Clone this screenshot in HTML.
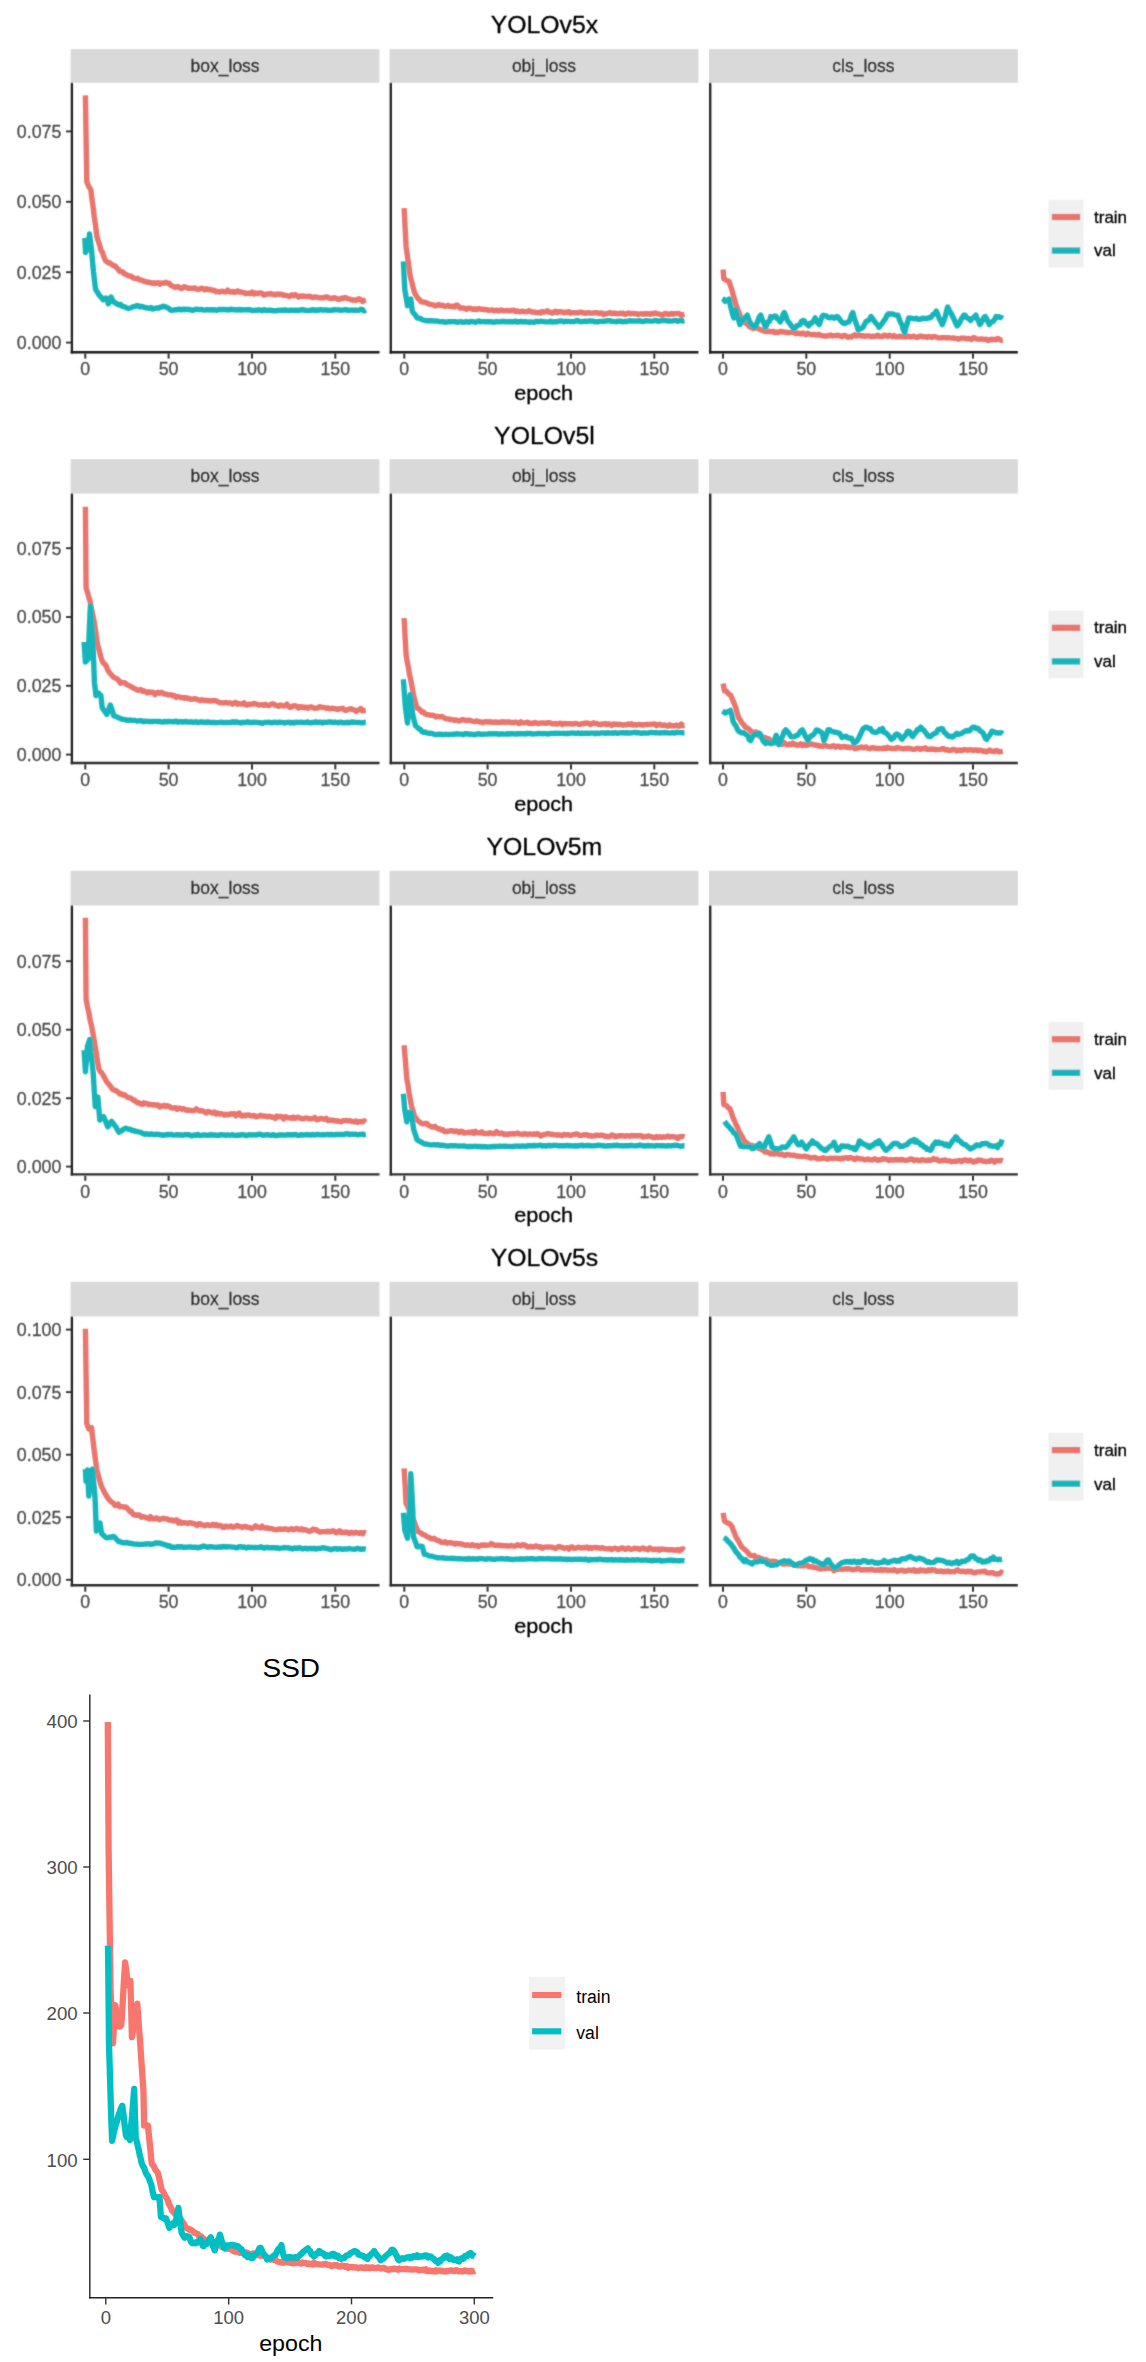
<!DOCTYPE html>
<html><head><meta charset="utf-8"><title>Loss curves</title>
<style>
html,body{margin:0;padding:0;background:#fff;}
body{width:1146px;height:2362px;overflow:hidden;font-family:"Liberation Sans",sans-serif;}
svg text{font-family:"Liberation Sans",sans-serif;}
</style></head><body>
<svg width="1146" height="2362" viewBox="0 0 1146 2362" style="display:block;font-family:'Liberation Sans',sans-serif">
<rect width="1146" height="2362" fill="#fff"/>
<defs><filter id="bl" x="0" y="0" width="1146" height="1640" filterUnits="userSpaceOnUse"><feConvolveMatrix order="3" kernelMatrix="0.0225 0.1050 0.0225 0.1050 0.4900 0.1050 0.0225 0.1050 0.0225" divisor="1" edgeMode="duplicate" preserveAlpha="false"/></filter></defs>
<g id="yolo" filter="url(#bl)" stroke-width="0.3" paint-order="stroke">
<text x="544.4" y="33.2" font-size="24.8" text-anchor="middle" stroke="#000" fill="#000">YOLOv5x</text>
<rect x="70.7" y="49.2" width="308.8" height="33.6" fill="#D9D9D9"/>
<text x="225.1" y="71.6" font-size="17.5" text-anchor="middle" stroke="#1A1A1A" fill="#1A1A1A">box_loss</text>
<rect x="389.6" y="49.2" width="308.8" height="33.6" fill="#D9D9D9"/>
<text x="544.0" y="71.6" font-size="17.5" text-anchor="middle" stroke="#1A1A1A" fill="#1A1A1A">obj_loss</text>
<rect x="709.0" y="49.2" width="308.8" height="33.6" fill="#D9D9D9"/>
<text x="863.4" y="71.6" font-size="17.5" text-anchor="middle" stroke="#1A1A1A" fill="#1A1A1A">cls_loss</text>
<polyline points="85.4,95.4 86.8,181.5 88.1,185.0 89.5,187.9 90.8,189.5 91.9,198.7 93.1,207.0 94.2,216.4 95.6,225.7 96.9,236.6 98.2,240.9 99.6,244.8 100.9,250.0 102.5,252.5 104.0,257.1 105.6,260.8 106.9,261.7 108.3,262.8 109.6,262.7 111.0,263.9 112.3,264.8 113.8,265.8 115.3,265.9 116.8,268.1 118.3,269.2 119.8,271.6 121.3,271.5 122.8,272.1 124.3,273.9 125.8,274.2 127.3,275.1 128.8,276.0 130.3,275.9 131.8,276.7 133.2,277.9 134.7,278.4 136.2,278.6 137.7,278.3 139.2,279.6 140.8,280.2 142.4,280.5 144.0,281.3 145.6,281.4 147.2,282.3 148.9,282.1 150.5,282.6 152.1,283.3 153.7,282.6 155.3,283.6 156.8,283.0 158.4,282.8 159.9,284.2 161.4,283.0 162.9,283.1 164.5,283.0 166.0,282.3 167.6,283.2 169.2,283.2 170.8,285.5 172.4,285.9 174.0,287.0 175.6,287.5 177.2,286.5 178.8,286.9 180.3,288.2 181.9,288.6 183.5,287.0 185.1,286.8 186.7,287.6 188.2,288.4 189.8,288.3 191.4,288.4 193.0,288.3 194.7,287.9 196.3,288.9 197.9,289.6 199.6,288.9 201.2,288.2 202.9,288.7 204.6,289.9 206.2,288.7 207.8,289.6 209.5,289.4 211.2,290.0 212.8,290.2 214.4,290.5 216.1,291.7 217.8,291.4 219.4,292.1 221.1,291.4 222.7,291.2 224.3,291.8 226.0,291.8 227.6,290.1 229.3,291.6 230.9,292.1 232.6,291.4 234.2,292.4 235.9,292.0 237.5,290.8 239.2,292.1 240.8,291.9 242.4,292.3 244.1,292.6 245.7,293.7 247.4,293.2 249.0,293.1 250.7,293.5 252.3,292.2 254.0,294.0 255.6,292.9 257.2,293.7 258.9,293.0 260.5,293.0 262.2,293.4 263.8,295.1 265.5,294.7 267.1,293.9 268.8,294.0 270.4,293.5 272.0,294.2 273.7,294.1 275.3,295.0 277.0,293.9 278.6,294.4 280.3,294.3 281.9,294.4 283.6,295.4 285.2,295.3 286.8,295.7 288.5,296.2 290.1,296.3 291.8,294.8 293.4,295.8 295.1,294.6 296.7,295.6 298.4,297.1 300.0,296.0 301.6,296.2 303.3,296.0 304.9,296.4 306.6,296.4 308.2,296.5 309.9,296.1 311.5,297.3 313.2,297.5 314.8,296.9 316.4,297.2 318.1,297.5 319.7,297.9 321.4,297.7 323.0,297.9 324.7,297.4 326.3,296.9 328.0,297.2 329.6,298.3 331.3,298.6 332.9,298.2 334.5,297.7 336.2,298.3 337.8,299.3 339.5,299.4 341.1,298.2 342.8,298.5 344.4,297.7 346.1,297.8 347.7,298.8 349.4,298.9 351.0,299.6 352.6,300.1 354.3,299.9 355.9,300.3 357.6,299.3 359.2,298.8 360.9,299.8 362.5,301.5 364.2,300.4 365.8,299.9" fill="none" stroke="#EA746D" stroke-width="5.4" stroke-linejoin="round" />
<polyline points="84.8,238.0 85.6,252.5 87.2,240.0 87.8,250.0 88.7,242.8 89.5,234.0 90.5,241.9 91.5,250.0 92.5,261.1 93.5,272.0 94.5,280.6 95.5,289.0 96.7,291.3 97.8,292.6 99.0,295.0 100.3,296.4 101.7,297.8 103.0,299.7 104.5,298.4 106.0,298.0 107.2,300.5 108.3,303.8 109.7,300.2 111.0,297.0 112.2,299.4 113.5,302.0 114.9,302.4 116.2,303.6 117.6,304.1 119.0,305.0 120.6,304.5 122.2,306.3 123.8,306.7 125.3,307.1 126.9,308.0 128.5,308.5 130.1,308.0 131.7,307.5 133.3,306.6 134.9,306.3 136.5,305.8 138.1,305.6 139.7,306.8 141.3,306.4 142.9,306.9 144.6,307.4 146.2,307.8 147.8,308.0 149.4,308.5 151.0,307.5 152.6,309.0 154.1,308.4 155.6,308.2 157.1,307.9 158.6,308.2 160.2,307.2 161.7,307.0 163.2,306.1 164.7,306.5 166.0,307.2 167.3,307.6 168.7,308.3 170.0,309.8 171.6,310.4 173.3,310.1 174.9,309.8 176.6,309.8 178.2,309.3 179.9,309.3 181.5,309.8 183.2,309.1 184.8,309.7 186.5,309.2 188.1,309.7 189.8,309.4 191.4,310.2 193.1,310.2 194.7,309.7 196.4,309.1 198.0,309.4 199.6,309.7 201.3,309.4 202.9,309.8 204.6,310.1 206.2,309.8 207.9,309.6 209.5,310.0 211.2,309.7 212.8,310.0 214.5,309.7 216.1,310.3 217.8,309.8 219.4,309.4 221.1,309.7 222.7,309.5 224.4,309.4 226.0,309.8 227.6,309.6 229.3,310.0 230.9,309.1 232.6,309.6 234.2,309.7 235.9,309.7 237.5,310.1 239.2,309.4 240.8,310.0 242.4,309.8 244.1,309.9 245.7,309.8 247.4,309.7 249.0,309.7 250.7,310.0 252.3,310.6 254.0,310.4 255.6,310.3 257.2,310.2 258.9,309.8 260.5,310.1 262.2,310.7 263.8,309.7 265.5,310.2 267.1,310.4 268.8,310.2 270.4,310.3 272.0,310.5 273.7,310.8 275.3,310.6 277.0,310.7 278.6,310.3 280.3,310.4 281.9,310.2 283.6,310.2 285.2,310.0 286.8,310.3 288.5,310.6 290.1,310.2 291.8,310.2 293.4,310.4 295.1,310.2 296.7,310.5 298.4,310.3 300.0,310.2 301.6,309.8 303.3,309.8 304.9,310.3 306.6,310.4 308.2,310.6 309.9,310.3 311.5,310.2 313.2,309.7 314.8,310.5 316.4,309.9 318.1,310.4 319.7,309.8 321.4,309.8 323.0,310.1 324.7,310.0 326.3,309.9 328.0,310.3 329.6,310.4 331.3,310.3 332.9,310.0 334.5,309.8 336.2,309.9 337.8,309.9 339.5,310.0 341.1,310.3 342.8,310.1 344.4,309.8 346.1,309.8 347.7,310.4 349.4,310.2 351.0,310.1 352.6,310.1 354.3,310.2 355.9,310.1 357.6,310.4 359.2,310.4 360.9,309.2 362.5,309.8 364.2,310.9 365.8,310.0" fill="none" stroke="#17B5BC" stroke-width="5.4" stroke-linejoin="round" />
<polyline points="404.1,208.2 405.1,227.4 406.1,246.5 407.5,256.6 408.8,266.0 410.2,276.1 411.8,282.1 413.3,288.3 414.9,293.6 416.4,295.9 417.9,298.5 419.4,299.3 420.9,301.6 422.5,302.0 424.0,302.1 425.6,302.5 427.2,303.2 428.7,303.9 430.3,304.3 431.9,304.7 433.5,305.0 435.1,306.0 436.8,305.7 438.4,304.5 440.0,305.3 441.6,305.2 443.2,305.4 444.8,306.5 446.4,306.1 448.0,305.3 449.7,306.4 451.3,306.5 452.9,306.2 454.5,307.0 455.8,305.4 457.0,305.0 458.5,306.1 460.0,308.0 461.6,308.0 463.2,308.0 464.8,308.3 466.4,309.4 468.0,308.3 469.6,308.2 471.2,308.6 472.9,309.4 474.5,308.8 476.1,309.8 477.7,308.7 479.3,308.7 480.9,309.3 482.5,309.1 484.1,309.7 485.8,309.4 487.4,310.0 489.1,310.3 490.8,310.1 492.4,309.9 494.1,310.8 495.7,310.5 497.4,310.2 499.1,310.9 500.7,310.0 502.4,310.4 504.1,310.8 505.7,310.6 507.4,310.4 509.1,310.8 510.7,310.5 512.4,310.5 514.0,310.3 515.7,311.5 517.4,310.9 519.0,311.7 520.7,311.5 522.4,311.2 524.0,311.6 525.7,311.6 527.4,311.5 529.0,310.8 530.7,311.5 532.4,312.1 534.0,312.0 535.7,312.3 537.3,312.7 539.0,312.3 540.7,313.0 542.3,311.5 544.0,312.1 545.7,311.9 547.3,310.8 549.0,312.3 550.6,312.3 552.3,313.1 553.9,312.2 555.6,311.2 557.2,312.7 558.9,311.7 560.5,311.6 562.2,312.1 563.8,312.7 565.5,312.2 567.1,312.5 568.8,311.5 570.4,313.2 572.1,312.6 573.7,312.6 575.4,312.9 577.0,312.7 578.7,312.7 580.3,312.2 582.0,312.5 583.7,312.9 585.3,313.3 587.0,312.8 588.6,312.8 590.3,313.0 591.9,313.1 593.6,313.0 595.2,312.7 596.9,312.6 598.5,313.4 600.2,313.2 601.8,313.0 603.5,314.7 605.1,313.8 606.8,313.6 608.4,313.2 610.1,312.6 611.7,313.6 613.4,313.2 615.0,313.2 616.7,313.7 618.3,313.8 620.0,313.2 621.7,313.5 623.3,313.3 625.0,314.4 626.6,313.8 628.3,312.9 629.9,313.7 631.6,313.5 633.2,313.5 634.9,313.8 636.5,313.7 638.2,314.6 639.8,313.9 641.5,313.8 643.2,314.2 644.8,313.5 646.5,314.1 648.1,313.7 649.8,314.3 651.4,313.4 653.1,313.9 654.7,313.0 656.4,313.4 658.0,313.8 659.7,314.1 661.3,315.0 663.0,315.1 664.7,313.5 666.3,313.5 668.0,314.6 669.6,314.4 671.3,313.4 672.9,314.2 674.6,313.6 676.2,313.6 677.9,313.4 679.5,313.9 681.2,315.3 682.8,314.7 684.5,314.3" fill="none" stroke="#EA746D" stroke-width="5.4" stroke-linejoin="round" />
<polyline points="403.4,261.3 404.8,289.5 406.1,297.3 407.5,305.7 408.4,303.5 409.2,302.0 410.8,299.0 412.2,311.0 413.8,313.4 415.3,314.9 416.9,317.8 418.5,318.2 420.1,318.2 421.8,319.5 423.4,320.0 425.0,320.4 426.6,320.9 428.1,320.6 429.7,320.8 431.3,320.8 432.8,320.8 434.4,321.1 436.0,320.9 437.5,321.2 439.1,321.6 440.7,321.6 442.2,321.6 443.8,321.8 445.5,322.4 447.1,321.9 448.8,321.7 450.5,321.8 452.2,321.6 453.8,321.6 455.5,321.7 457.2,322.3 458.8,321.9 460.5,321.8 462.2,322.0 463.8,322.4 465.5,321.8 467.2,321.6 468.9,322.4 470.5,321.5 472.2,321.6 473.9,321.9 475.5,322.4 477.2,321.6 478.9,321.0 480.5,321.8 482.2,321.6 483.9,321.6 485.6,321.8 487.2,321.8 488.9,321.8 490.6,321.6 492.2,322.0 493.9,322.2 495.6,321.8 497.2,321.6 498.9,321.9 500.6,321.9 502.2,321.4 503.9,321.5 505.6,321.9 507.3,321.7 508.9,321.6 510.6,321.7 512.3,321.7 513.9,321.7 515.6,321.1 517.3,322.0 519.0,321.8 520.6,321.4 522.3,321.9 524.0,321.8 525.6,321.7 527.3,321.9 529.0,322.3 530.6,321.9 532.3,322.1 534.0,322.3 535.6,321.5 537.3,321.4 539.0,321.8 540.7,321.2 542.3,321.4 544.0,321.6 545.7,321.9 547.3,321.9 549.0,321.8 550.6,321.1 552.3,322.1 553.9,321.8 555.6,321.8 557.2,321.7 558.9,321.1 560.5,321.0 562.2,321.1 563.8,321.9 565.5,321.3 567.1,321.4 568.8,321.4 570.4,321.6 572.1,321.6 573.7,321.6 575.4,321.1 577.0,320.5 578.7,321.3 580.3,321.5 582.0,321.7 583.7,321.4 585.3,321.2 587.0,321.5 588.6,321.0 590.3,321.0 591.9,321.0 593.6,321.3 595.2,321.9 596.9,321.6 598.5,321.7 600.2,321.4 601.8,321.4 603.5,321.2 605.1,321.2 606.8,320.6 608.4,320.8 610.1,320.8 611.7,321.4 613.4,321.4 615.0,321.6 616.7,321.7 618.3,321.2 620.0,321.2 621.7,321.5 623.3,321.8 625.0,321.3 626.6,321.5 628.3,321.2 629.9,320.7 631.6,321.1 633.2,320.9 634.9,321.1 636.5,320.9 638.2,321.1 639.8,320.5 641.5,321.5 643.2,321.5 644.8,321.0 646.5,320.7 648.1,320.9 649.8,321.1 651.4,321.1 653.1,321.1 654.7,320.4 656.4,320.5 658.0,321.2 659.7,321.0 661.3,320.5 663.0,320.5 664.7,320.4 666.3,320.5 668.0,321.1 669.6,320.8 671.3,321.1 672.9,320.9 674.6,320.4 676.2,320.5 677.9,321.3 679.5,320.6 681.2,320.4 682.8,321.0 684.5,320.7" fill="none" stroke="#17B5BC" stroke-width="5.4" stroke-linejoin="round" />
<polyline points="723.1,269.5 723.8,278.9 725.1,279.4 726.5,280.5 727.9,280.9 729.2,281.6 730.5,285.9 731.9,290.0 733.2,295.0 734.5,299.3 735.9,304.5 737.2,308.5 738.6,311.8 739.9,315.1 741.2,317.7 742.6,320.5 744.2,322.1 745.8,323.4 747.5,323.8 749.1,326.2 750.7,327.3 752.3,328.1 754.0,328.5 755.6,327.8 757.3,328.0 758.9,328.9 760.6,329.6 762.2,330.5 763.9,330.8 765.5,331.3 767.1,331.6 768.6,331.1 770.2,331.6 771.8,331.8 773.3,331.3 774.9,332.5 776.5,332.2 778.0,332.5 779.6,331.7 781.2,331.5 782.7,331.7 784.3,332.0 786.0,332.1 787.6,332.6 789.3,332.7 790.9,332.4 792.6,332.3 794.3,332.6 795.9,333.7 797.6,333.0 799.2,333.5 800.9,333.8 802.5,333.0 804.2,333.8 805.9,334.7 807.5,333.3 809.2,334.0 810.8,334.4 812.5,334.7 814.1,334.3 815.8,335.0 817.4,335.0 819.0,334.3 820.7,335.4 822.3,335.6 823.9,335.9 825.5,336.2 827.2,335.8 828.8,335.7 830.4,335.0 832.1,335.9 833.7,335.6 835.3,335.6 837.0,335.3 838.6,335.5 840.2,335.8 841.8,336.8 843.5,335.4 845.1,335.5 846.7,336.5 848.4,337.3 850.0,336.7 851.6,337.0 853.2,335.6 854.9,334.8 856.5,336.0 858.1,335.6 859.8,335.2 861.4,336.1 863.0,335.6 864.6,336.3 866.3,335.9 867.9,335.9 869.6,336.0 871.2,336.6 872.8,336.3 874.5,336.2 876.1,336.2 877.8,335.2 879.4,336.4 881.0,336.5 882.7,336.4 884.3,335.1 885.9,335.5 887.6,336.4 889.2,335.3 890.9,335.9 892.5,336.6 894.1,335.6 895.8,336.9 897.4,336.7 899.1,336.3 900.7,336.5 902.3,336.7 904.0,336.5 905.6,337.0 907.3,336.2 908.9,336.2 910.5,337.0 912.2,336.7 913.8,336.2 915.4,337.0 917.1,337.5 918.7,336.6 920.4,336.0 922.0,336.5 923.6,336.7 925.3,336.6 926.9,337.5 928.6,336.5 930.2,336.9 931.9,337.5 933.5,336.5 935.2,336.6 936.8,337.4 938.5,337.9 940.1,337.9 941.8,337.7 943.4,337.6 945.1,337.6 946.7,337.9 948.4,337.6 950.0,337.9 951.6,338.1 953.3,338.0 955.0,338.4 956.6,338.4 958.2,339.2 959.9,338.6 961.5,338.1 963.2,338.1 964.9,338.3 966.5,338.9 968.1,338.4 969.8,338.8 971.5,339.6 973.1,337.6 974.8,338.0 976.4,338.8 978.0,339.1 979.7,339.2 981.4,338.9 983.0,339.4 984.6,339.4 986.3,339.1 987.9,340.6 989.6,339.9 991.2,339.3 992.9,339.5 994.5,339.5 996.2,339.7 997.8,338.4 999.5,339.3 1001.1,340.3 1002.8,340.0" fill="none" stroke="#EA746D" stroke-width="5.4" stroke-linejoin="round" />
<polyline points="722.4,298.4 723.8,299.3 725.1,301.4 726.5,300.4 727.9,300.7 729.2,299.0 730.5,305.9 731.8,311.0 732.8,315.1 733.9,317.9 734.9,314.2 735.9,309.8 737.2,315.2 738.6,319.8 739.9,324.6 741.4,322.3 742.9,320.2 744.3,318.1 745.8,317.1 747.3,315.2 748.4,318.3 749.6,321.8 750.7,323.2 752.0,325.2 753.4,326.3 754.7,327.3 756.2,324.9 757.7,321.4 759.2,317.1 760.7,315.2 762.3,319.8 763.9,323.1 765.5,327.3 766.8,324.8 768.1,321.8 769.5,321.2 770.8,316.5 772.1,317.7 773.5,317.1 774.9,315.9 776.2,316.5 777.5,318.8 778.9,319.7 780.2,321.9 781.6,319.5 782.9,314.9 784.3,312.5 785.6,315.5 787.0,319.4 788.3,321.9 789.6,323.2 791.0,325.3 792.4,327.1 793.7,328.6 795.3,328.0 796.8,325.8 798.4,325.1 800.0,324.8 801.5,321.2 803.1,320.5 804.5,321.2 805.8,323.5 807.1,324.2 808.5,325.9 809.8,323.4 811.2,323.6 812.5,322.0 813.9,320.5 815.2,317.9 816.5,321.1 817.9,323.1 819.2,324.6 820.5,321.2 821.9,316.8 823.2,315.2 824.6,315.8 825.9,315.7 827.3,316.8 828.6,317.7 830.0,317.9 831.3,316.9 832.7,317.1 834.0,318.3 835.4,317.6 836.7,316.5 838.0,317.0 839.4,319.0 840.7,320.6 842.1,322.3 843.4,323.2 844.8,323.6 846.1,322.7 847.4,322.2 848.8,321.9 850.1,319.4 851.5,314.9 852.8,312.5 854.1,317.6 855.5,321.7 856.9,325.5 858.2,330.0 859.8,328.8 861.4,328.4 863.0,327.3 864.6,324.3 866.2,321.3 867.8,320.8 869.4,319.7 871.0,316.5 872.6,318.8 874.2,321.0 875.8,323.1 877.4,324.6 879.0,327.3 880.6,325.3 882.2,323.4 883.8,320.8 885.3,319.0 886.9,315.6 888.5,313.8 890.1,314.2 891.7,313.8 893.2,314.1 894.8,314.9 896.4,315.1 898.0,315.2 899.3,319.3 900.7,322.8 902.0,325.0 903.4,329.9 904.7,332.6 906.0,326.8 907.4,322.6 908.7,317.9 910.2,318.3 911.8,318.3 913.3,318.8 914.9,318.8 916.4,318.2 918.0,319.4 919.5,319.2 921.0,319.1 922.6,318.2 924.1,318.6 925.6,318.4 927.1,318.5 928.7,317.8 930.2,317.9 931.7,316.3 933.2,314.4 934.8,313.8 936.3,311.1 937.8,314.4 939.3,318.7 940.8,321.3 942.3,324.6 943.6,321.0 945.0,317.5 946.4,311.6 947.7,307.1 949.3,310.3 950.8,312.8 952.4,315.9 954.0,319.1 955.5,322.7 957.1,325.9 958.4,324.4 959.8,322.3 961.1,319.3 962.5,317.4 963.8,315.2 965.1,315.3 966.5,317.5 967.8,318.3 969.2,318.7 970.5,320.5 971.9,318.5 973.2,318.1 974.5,316.6 975.9,315.2 977.2,318.8 978.6,321.3 979.9,324.6 981.2,322.6 982.6,320.4 983.9,317.5 985.3,316.5 986.6,318.9 988.0,321.7 989.3,324.6 990.7,322.5 992.0,321.8 993.4,321.2 994.7,319.4 996.1,316.5 997.4,317.2 998.8,316.6 1000.1,317.4 1001.5,317.6 1002.8,318.5" fill="none" stroke="#17B5BC" stroke-width="5.4" stroke-linejoin="round" />
<line x1="71.90" y1="82.8" x2="71.90" y2="353.4" stroke="#222" stroke-width="2.3"/>
<line x1="70.7" y1="352.2" x2="379.5" y2="352.2" stroke="#1a1a1a" stroke-width="2.6"/>
<line x1="85.3" y1="353.5" x2="85.3" y2="358.6" stroke="#333" stroke-width="2"/>
<text x="85.3" y="375.3" font-size="17.8" text-anchor="middle" stroke="#4D4D4D" fill="#4D4D4D">0</text>
<line x1="168.6" y1="353.5" x2="168.6" y2="358.6" stroke="#333" stroke-width="2"/>
<text x="168.6" y="375.3" font-size="17.8" text-anchor="middle" stroke="#4D4D4D" fill="#4D4D4D">50</text>
<line x1="252.0" y1="353.5" x2="252.0" y2="358.6" stroke="#333" stroke-width="2"/>
<text x="252.0" y="375.3" font-size="17.8" text-anchor="middle" stroke="#4D4D4D" fill="#4D4D4D">100</text>
<line x1="335.3" y1="353.5" x2="335.3" y2="358.6" stroke="#333" stroke-width="2"/>
<text x="335.3" y="375.3" font-size="17.8" text-anchor="middle" stroke="#4D4D4D" fill="#4D4D4D">150</text>
<line x1="390.80" y1="82.8" x2="390.80" y2="353.4" stroke="#222" stroke-width="2.3"/>
<line x1="389.6" y1="352.2" x2="698.4" y2="352.2" stroke="#1a1a1a" stroke-width="2.6"/>
<line x1="404.3" y1="353.5" x2="404.3" y2="358.6" stroke="#333" stroke-width="2"/>
<text x="404.3" y="375.3" font-size="17.8" text-anchor="middle" stroke="#4D4D4D" fill="#4D4D4D">0</text>
<line x1="487.6" y1="353.5" x2="487.6" y2="358.6" stroke="#333" stroke-width="2"/>
<text x="487.6" y="375.3" font-size="17.8" text-anchor="middle" stroke="#4D4D4D" fill="#4D4D4D">50</text>
<line x1="571.0" y1="353.5" x2="571.0" y2="358.6" stroke="#333" stroke-width="2"/>
<text x="571.0" y="375.3" font-size="17.8" text-anchor="middle" stroke="#4D4D4D" fill="#4D4D4D">100</text>
<line x1="654.3" y1="353.5" x2="654.3" y2="358.6" stroke="#333" stroke-width="2"/>
<text x="654.3" y="375.3" font-size="17.8" text-anchor="middle" stroke="#4D4D4D" fill="#4D4D4D">150</text>
<line x1="710.20" y1="82.8" x2="710.20" y2="353.4" stroke="#222" stroke-width="2.3"/>
<line x1="709.0" y1="352.2" x2="1017.8" y2="352.2" stroke="#1a1a1a" stroke-width="2.6"/>
<line x1="723.0" y1="353.5" x2="723.0" y2="358.6" stroke="#333" stroke-width="2"/>
<text x="723.0" y="375.3" font-size="17.8" text-anchor="middle" stroke="#4D4D4D" fill="#4D4D4D">0</text>
<line x1="806.3" y1="353.5" x2="806.3" y2="358.6" stroke="#333" stroke-width="2"/>
<text x="806.3" y="375.3" font-size="17.8" text-anchor="middle" stroke="#4D4D4D" fill="#4D4D4D">50</text>
<line x1="889.7" y1="353.5" x2="889.7" y2="358.6" stroke="#333" stroke-width="2"/>
<text x="889.7" y="375.3" font-size="17.8" text-anchor="middle" stroke="#4D4D4D" fill="#4D4D4D">100</text>
<line x1="973.0" y1="353.5" x2="973.0" y2="358.6" stroke="#333" stroke-width="2"/>
<text x="973.0" y="375.3" font-size="17.8" text-anchor="middle" stroke="#4D4D4D" fill="#4D4D4D">150</text>
<line x1="66" y1="342.6" x2="71.3" y2="342.6" stroke="#333" stroke-width="1.9"/>
<text x="61.3" y="349.0" font-size="17.8" text-anchor="end" stroke="#4D4D4D" fill="#4D4D4D">0.000</text>
<line x1="66" y1="272.2" x2="71.3" y2="272.2" stroke="#333" stroke-width="1.9"/>
<text x="61.3" y="278.6" font-size="17.8" text-anchor="end" stroke="#4D4D4D" fill="#4D4D4D">0.025</text>
<line x1="66" y1="201.8" x2="71.3" y2="201.8" stroke="#333" stroke-width="1.9"/>
<text x="61.3" y="208.2" font-size="17.8" text-anchor="end" stroke="#4D4D4D" fill="#4D4D4D">0.050</text>
<line x1="66" y1="131.4" x2="71.3" y2="131.4" stroke="#333" stroke-width="1.9"/>
<text x="61.3" y="137.8" font-size="17.8" text-anchor="end" stroke="#4D4D4D" fill="#4D4D4D">0.075</text>
<text transform="translate(543.7 399.7) scale(1.03 1)" font-size="21" text-anchor="middle" stroke="#000" fill="#000">epoch</text>
<rect x="1048.5" y="199.8" width="35" height="67.7" fill="#F0F0F0"/>
<line x1="1051.8" x2="1080.2" y1="217.0" y2="217.0" stroke="#EA746D" stroke-width="6.3"/>
<line x1="1051.8" x2="1080.2" y1="250.6" y2="250.6" stroke="#17B5BC" stroke-width="6.3"/>
<text x="1094.0" y="222.6" font-size="17.0" stroke="#000" fill="#000">train</text>
<text x="1094.0" y="256.4" font-size="17.0" stroke="#000" fill="#000">val</text>
<text x="544.4" y="444.0" font-size="24.8" text-anchor="middle" stroke="#000" fill="#000">YOLOv5l</text>
<rect x="70.7" y="459.2" width="308.8" height="34.4" fill="#D9D9D9"/>
<text x="225.1" y="482.0" font-size="17.5" text-anchor="middle" stroke="#1A1A1A" fill="#1A1A1A">box_loss</text>
<rect x="389.6" y="459.2" width="308.8" height="34.4" fill="#D9D9D9"/>
<text x="544.0" y="482.0" font-size="17.5" text-anchor="middle" stroke="#1A1A1A" fill="#1A1A1A">obj_loss</text>
<rect x="709.0" y="459.2" width="308.8" height="34.4" fill="#D9D9D9"/>
<text x="863.4" y="482.0" font-size="17.5" text-anchor="middle" stroke="#1A1A1A" fill="#1A1A1A">cls_loss</text>
<polyline points="85.4,506.8 86.1,588.1 87.4,591.8 88.8,597.1 90.1,601.5 91.5,608.9 92.8,614.8 94.2,621.7 95.8,632.2 97.5,644.5 98.9,649.2 100.2,654.6 101.6,659.3 103.2,662.8 104.8,664.1 106.4,666.4 108.0,670.4 109.6,672.8 111.2,674.5 112.7,676.5 114.3,677.6 115.9,678.2 117.4,679.3 119.0,680.8 120.5,683.2 122.0,682.4 123.5,682.6 125.0,682.9 126.5,684.4 128.0,685.3 129.5,685.8 131.0,686.7 132.5,687.5 134.1,688.3 135.8,689.2 137.4,690.1 139.1,690.2 140.7,689.4 142.4,691.3 144.0,690.8 145.7,692.0 147.3,692.9 148.8,691.8 150.4,692.5 151.9,692.1 153.4,692.6 154.9,694.6 156.5,692.8 158.0,692.3 159.7,693.3 161.3,692.3 163.0,693.1 164.6,694.1 166.3,694.1 167.9,694.7 169.6,694.9 171.2,694.6 172.9,695.8 174.5,695.4 176.2,697.4 177.8,696.5 179.5,697.0 181.1,697.6 182.7,697.5 184.2,698.2 185.8,697.5 187.4,698.6 189.0,698.2 190.6,699.2 192.2,699.1 193.7,699.0 195.3,698.5 196.9,699.5 198.5,699.7 200.1,700.7 201.7,699.7 203.2,700.3 204.8,700.5 206.4,700.3 208.0,700.7 209.7,700.8 211.3,701.0 212.9,700.6 214.6,700.5 216.2,700.9 217.8,701.8 219.5,702.7 221.1,702.7 222.7,702.9 224.4,702.9 226.0,702.4 227.6,703.1 229.3,702.8 230.9,703.2 232.6,704.0 234.2,702.9 235.9,702.5 237.5,704.2 239.2,703.5 240.8,703.9 242.4,704.0 244.1,702.8 245.7,704.9 247.4,705.0 249.0,704.1 250.7,704.3 252.3,704.1 254.0,703.4 255.6,703.9 257.2,704.3 258.9,705.0 260.5,704.9 262.2,704.6 263.8,705.4 265.5,704.3 267.1,705.1 268.8,705.6 270.4,704.8 272.0,703.8 273.7,704.2 275.3,705.1 277.0,705.6 278.6,706.4 280.3,705.0 281.9,705.4 283.6,706.0 285.2,705.7 286.8,704.2 288.5,706.1 290.1,707.5 291.8,707.0 293.4,705.7 295.1,705.9 296.7,706.4 298.4,708.0 300.0,706.5 301.6,707.3 303.3,706.9 304.9,707.8 306.6,707.1 308.2,708.2 309.9,706.9 311.5,706.9 313.2,707.7 314.8,708.4 316.4,708.1 318.1,707.9 319.7,706.6 321.4,707.1 323.0,707.4 324.7,707.6 326.3,708.4 328.0,708.0 329.6,708.8 331.3,708.5 332.9,708.3 334.5,708.6 336.2,709.0 337.8,709.4 339.5,708.7 341.1,708.8 342.8,708.2 344.4,710.0 346.1,710.4 347.7,709.5 349.4,709.2 351.0,708.7 352.6,709.6 354.3,709.9 355.9,711.3 357.6,710.4 359.2,709.7 360.9,708.5 362.5,710.9 364.2,710.6 365.8,710.5" fill="none" stroke="#EA746D" stroke-width="5.4" stroke-linejoin="round" />
<polyline points="84.1,641.8 85.4,662.0 86.8,660.3 88.1,659.3 89.2,632.4 90.4,605.6 91.7,623.6 93.0,641.8 94.4,682.2 96.0,695.6 97.2,694.2 98.5,693.0 99.7,694.5 100.9,695.6 102.2,707.7 103.8,710.0 105.3,712.1 106.9,714.4 108.0,711.8 109.2,708.1 110.3,705.0 111.4,708.2 112.6,711.7 113.7,715.8 115.2,716.1 116.7,716.9 118.2,717.6 119.8,718.2 121.3,718.9 122.8,719.4 124.3,719.6 125.8,719.8 127.4,720.3 129.0,720.3 130.5,720.0 132.1,720.4 133.7,720.4 135.3,720.4 136.8,721.1 138.4,720.9 140.0,720.6 141.6,720.8 143.1,721.6 144.7,721.1 146.3,721.3 147.9,721.4 149.4,721.5 151.0,721.6 152.6,721.5 154.3,721.4 155.9,721.4 157.6,721.5 159.3,721.5 160.9,721.8 162.6,722.1 164.3,721.5 165.9,721.8 167.6,721.5 169.3,721.5 170.9,721.6 172.6,721.8 174.3,721.7 176.0,721.1 177.6,722.1 179.3,721.8 181.0,721.7 182.6,722.0 184.3,721.8 186.0,721.5 187.6,722.0 189.3,722.1 191.0,721.8 192.6,722.2 194.3,722.2 196.0,721.8 197.6,722.5 199.3,722.3 201.0,721.8 202.6,722.2 204.3,722.2 206.0,722.5 207.7,721.9 209.3,722.4 211.0,722.5 212.7,722.5 214.3,722.5 216.0,722.7 217.7,722.6 219.3,722.4 221.0,722.1 222.7,722.6 224.3,722.7 226.0,722.4 227.7,722.6 229.3,722.5 231.0,722.6 232.7,721.8 234.3,722.4 236.0,721.7 237.7,722.4 239.3,722.7 241.0,723.0 242.6,722.4 244.3,722.5 246.0,722.4 247.6,721.8 249.3,722.5 251.0,722.4 252.6,722.5 254.3,722.2 256.0,722.4 257.6,722.4 259.3,722.8 260.9,722.6 262.6,723.5 264.3,722.5 265.9,722.4 267.6,722.4 269.3,722.2 270.9,722.8 272.6,722.7 274.3,722.1 275.9,722.4 277.6,722.8 279.3,722.1 280.9,722.4 282.6,722.4 284.2,723.1 285.9,722.7 287.6,722.4 289.2,722.3 290.9,723.0 292.6,722.4 294.2,723.1 295.9,722.2 297.6,722.4 299.2,722.4 300.9,722.3 302.6,722.4 304.2,722.6 305.9,722.3 307.6,722.0 309.2,722.8 310.9,722.9 312.5,722.4 314.2,722.5 315.9,721.8 317.5,722.6 319.2,722.1 320.9,722.3 322.5,723.0 324.2,722.2 325.9,722.4 327.5,722.2 329.2,721.9 330.9,722.0 332.5,722.5 334.2,722.1 335.8,722.3 337.5,722.7 339.2,722.5 340.8,722.1 342.5,722.8 344.2,722.6 345.8,722.9 347.5,722.3 349.2,722.9 350.8,722.2 352.5,722.0 354.1,722.3 355.8,722.4 357.5,722.6 359.1,722.4 360.8,722.7 362.5,722.9 364.1,722.4 365.8,722.5" fill="none" stroke="#17B5BC" stroke-width="5.4" stroke-linejoin="round" />
<polyline points="404.1,618.2 405.1,637.0 406.1,654.5 407.2,661.9 408.4,667.3 409.5,674.6 410.8,680.1 412.2,687.8 413.5,694.8 414.6,699.6 415.8,703.7 416.9,708.2 418.5,708.5 420.1,709.9 421.7,712.1 423.3,711.9 424.9,713.6 426.4,714.4 427.9,714.7 429.4,715.0 430.9,715.4 432.5,715.1 434.0,715.5 435.5,716.9 437.0,716.3 438.6,716.6 440.1,716.7 441.7,716.4 443.2,717.1 444.8,718.2 446.3,718.9 447.9,719.0 449.4,719.2 451.0,719.5 452.5,719.6 454.1,720.3 455.6,720.0 457.2,720.3 458.8,721.0 460.4,720.6 462.0,719.7 463.6,719.8 465.3,720.4 466.9,720.5 468.5,720.2 470.1,720.4 471.7,721.0 473.3,721.4 474.9,721.7 476.5,720.9 478.2,721.5 479.8,722.1 481.4,721.9 483.0,722.7 484.6,721.7 486.2,721.8 487.8,722.0 489.4,721.8 491.1,722.0 492.7,722.3 494.3,722.2 495.9,722.0 497.5,722.4 499.2,722.1 500.8,722.4 502.5,721.6 504.1,722.4 505.8,721.9 507.5,722.3 509.1,721.9 510.8,722.5 512.4,722.4 514.1,722.5 515.8,722.2 517.4,722.7 519.1,723.6 520.8,721.9 522.4,722.9 524.1,722.9 525.7,722.6 527.4,722.1 529.1,723.6 530.7,723.1 532.4,723.5 534.0,722.9 535.7,722.5 537.4,723.5 539.0,723.5 540.7,723.0 542.3,722.9 544.0,723.1 545.7,723.4 547.3,722.8 549.0,722.7 550.6,723.1 552.3,723.8 553.9,723.8 555.6,723.5 557.2,724.1 558.9,723.4 560.5,723.1 562.2,724.6 563.8,723.4 565.5,723.8 567.1,723.8 568.8,723.6 570.4,723.7 572.1,724.0 573.7,724.0 575.4,723.4 577.0,723.6 578.7,724.4 580.3,724.2 582.0,723.6 583.7,723.7 585.3,723.2 587.0,723.0 588.6,723.4 590.3,724.6 591.9,723.7 593.6,722.8 595.2,723.6 596.9,723.5 598.5,724.3 600.2,724.7 601.8,724.0 603.5,724.1 605.1,723.6 606.8,724.7 608.4,723.8 610.1,724.1 611.7,725.4 613.4,724.0 615.0,724.3 616.7,724.2 618.3,724.5 620.0,724.3 621.7,724.6 623.3,725.2 625.0,724.8 626.6,724.8 628.3,723.9 629.9,724.6 631.6,723.8 633.2,725.0 634.9,724.6 636.5,725.1 638.2,724.4 639.8,724.7 641.5,724.7 643.2,725.0 644.8,724.7 646.5,724.4 648.1,724.5 649.8,724.4 651.4,724.2 653.1,724.1 654.7,723.9 656.4,725.7 658.0,724.7 659.7,724.3 661.3,725.4 663.0,725.2 664.7,725.0 666.3,725.6 668.0,726.2 669.6,724.8 671.3,725.8 672.9,725.6 674.6,725.9 676.2,725.0 677.9,726.1 679.5,726.0 681.2,724.0 682.8,725.7 684.5,725.3" fill="none" stroke="#EA746D" stroke-width="5.4" stroke-linejoin="round" />
<polyline points="403.4,679.3 404.4,693.8 405.5,708.2 406.5,715.6 407.5,723.0 408.9,708.9 410.2,694.8 411.5,704.8 412.8,715.0 414.1,720.4 415.5,725.7 417.1,727.0 418.7,728.6 420.4,729.5 422.0,731.6 423.6,732.4 425.1,732.0 426.6,732.8 428.1,733.3 429.6,733.3 431.0,733.4 432.5,733.7 434.0,734.2 435.5,734.6 437.0,734.5 438.6,734.2 440.3,734.5 441.9,734.3 443.6,734.7 445.2,734.3 446.9,734.4 448.5,734.7 450.2,734.4 451.8,734.4 453.5,734.2 455.1,734.2 456.8,733.8 458.4,734.0 460.0,734.1 461.7,734.1 463.3,734.7 465.0,733.8 466.6,733.6 468.3,734.1 469.9,734.3 471.6,734.2 473.2,734.5 474.9,734.7 476.5,734.1 478.2,733.8 479.8,734.0 481.4,734.4 483.1,734.2 484.7,734.1 486.4,734.1 488.0,734.1 489.7,733.6 491.3,734.0 493.0,733.8 494.6,733.9 496.3,733.8 497.9,734.0 499.6,734.2 501.2,733.9 502.8,734.0 504.5,734.1 506.1,734.0 507.8,733.8 509.4,734.0 511.1,733.8 512.7,733.8 514.4,733.9 516.0,734.2 517.7,733.7 519.3,733.7 521.0,733.8 522.6,733.6 524.2,733.7 525.9,734.0 527.5,733.3 529.2,733.6 530.8,733.5 532.5,734.1 534.1,733.9 535.8,733.8 537.4,733.6 539.1,733.4 540.7,733.6 542.4,733.7 544.0,733.6 545.7,733.6 547.3,734.0 549.0,733.8 550.6,733.4 552.3,733.4 553.9,733.5 555.6,733.2 557.2,733.4 558.9,733.3 560.5,733.4 562.2,733.4 563.8,733.3 565.5,733.7 567.1,733.3 568.8,733.5 570.4,733.1 572.1,733.0 573.7,733.1 575.4,733.2 577.0,733.4 578.7,732.9 580.3,733.6 582.0,733.0 583.7,733.5 585.3,733.3 587.0,733.1 588.6,733.4 590.3,733.1 591.9,733.1 593.6,733.1 595.2,733.8 596.9,733.0 598.5,733.5 600.2,733.1 601.8,732.9 603.5,732.9 605.1,733.3 606.8,733.0 608.4,732.8 610.1,733.1 611.7,733.0 613.4,733.2 615.0,732.7 616.7,733.2 618.3,733.2 620.0,732.9 621.7,732.8 623.3,732.8 625.0,733.0 626.6,732.8 628.3,733.0 629.9,733.0 631.6,732.9 633.2,732.6 634.9,732.3 636.5,732.8 638.2,732.5 639.8,733.0 641.5,733.3 643.2,732.9 644.8,733.0 646.5,733.1 648.1,733.1 649.8,732.6 651.4,732.5 653.1,732.6 654.7,732.8 656.4,732.6 658.0,732.8 659.7,733.1 661.3,732.7 663.0,732.7 664.7,732.5 666.3,732.7 668.0,732.9 669.6,733.1 671.3,732.8 672.9,732.6 674.6,733.1 676.2,732.3 677.9,732.5 679.5,732.5 681.2,732.6 682.8,732.8 684.5,732.7" fill="none" stroke="#17B5BC" stroke-width="5.4" stroke-linejoin="round" />
<polyline points="723.1,683.5 724.5,690.9 726.0,690.9 727.5,692.6 729.0,694.3 730.5,694.9 731.8,698.0 733.2,701.2 734.5,704.3 735.9,708.0 737.2,713.0 738.6,717.8 739.9,719.4 741.3,722.0 742.6,723.6 744.0,725.3 745.3,727.2 746.9,727.8 748.5,728.8 750.2,730.3 751.8,732.2 753.4,732.5 754.9,732.2 756.4,732.0 757.9,735.3 759.5,736.3 761.0,736.5 762.5,736.9 764.0,737.1 765.5,737.9 767.0,738.4 768.6,738.7 770.1,740.4 771.6,740.9 773.1,740.6 774.7,742.0 776.2,743.3 777.7,743.0 779.2,743.0 780.7,744.6 782.2,744.5 783.6,742.0 785.1,743.7 786.6,744.5 788.1,744.8 789.6,744.0 791.2,744.7 792.8,743.1 794.3,744.6 795.9,744.4 797.5,745.3 799.1,744.9 800.7,743.8 802.3,745.6 803.8,744.2 805.4,745.3 807.0,745.2 808.6,744.7 810.2,743.7 811.8,744.3 813.3,744.5 814.9,745.0 816.5,745.3 818.1,745.2 819.7,746.4 821.2,746.0 822.8,746.4 824.4,745.2 826.0,745.5 827.6,746.4 829.2,746.6 830.7,746.6 832.3,746.0 833.9,745.6 835.5,747.2 837.1,746.2 838.7,746.2 840.2,747.4 841.8,746.8 843.4,746.7 845.0,746.5 846.7,747.3 848.3,747.0 849.9,747.8 851.6,747.2 853.2,746.8 854.8,748.7 856.5,748.4 858.1,747.8 859.7,747.6 861.4,746.9 863.0,747.8 864.6,747.4 866.3,747.0 867.9,748.3 869.6,748.7 871.2,748.0 872.8,747.7 874.5,748.2 876.1,748.1 877.8,748.5 879.4,748.5 881.0,748.5 882.7,748.7 884.3,747.8 885.9,748.6 887.6,747.2 889.2,748.2 890.9,748.2 892.5,748.6 894.1,748.4 895.8,748.7 897.4,747.5 899.1,748.1 900.7,748.1 902.3,748.8 904.0,748.8 905.6,748.5 907.3,748.4 908.9,748.3 910.5,748.7 912.2,749.1 913.8,749.4 915.4,749.0 917.1,748.4 918.7,748.4 920.4,749.4 922.0,748.5 923.6,748.8 925.3,747.8 926.9,749.4 928.6,749.3 930.2,749.3 931.9,749.0 933.5,749.2 935.2,749.7 936.8,749.5 938.5,749.6 940.1,749.6 941.8,748.9 943.4,748.5 945.1,750.0 946.7,749.5 948.4,750.4 950.0,750.6 951.6,749.8 953.3,749.5 955.0,749.6 956.6,750.9 958.2,750.3 959.9,750.0 961.5,750.7 963.2,749.8 964.9,749.8 966.5,749.9 968.1,750.3 969.8,749.7 971.5,749.9 973.1,750.5 974.8,750.0 976.4,749.9 978.0,750.8 979.7,750.1 981.4,750.5 983.0,751.2 984.6,751.0 986.3,752.0 987.9,751.1 989.6,750.1 991.2,751.1 992.9,751.2 994.5,751.6 996.2,750.4 997.8,751.0 999.5,751.9 1001.1,751.6 1002.8,751.4" fill="none" stroke="#EA746D" stroke-width="5.4" stroke-linejoin="round" />
<polyline points="722.4,711.0 723.8,711.9 725.1,713.0 726.5,712.4 727.8,711.7 729.2,711.5 730.5,710.4 731.9,715.3 733.2,721.8 734.6,724.1 735.9,725.7 737.2,728.8 738.6,731.2 739.9,731.7 741.3,732.8 742.6,732.7 744.0,732.7 745.3,733.9 746.6,734.9 748.0,736.0 749.4,739.8 750.7,740.6 752.0,737.2 753.4,736.0 754.7,733.9 756.1,734.4 757.4,733.9 758.8,732.9 760.1,733.9 761.4,736.7 762.8,740.4 764.1,742.0 765.7,743.5 767.3,741.8 769.0,742.8 770.6,743.6 772.2,743.3 773.5,742.7 774.9,738.4 776.2,735.2 777.5,740.2 778.9,744.6 780.2,742.9 781.6,738.0 782.9,735.4 784.3,731.4 785.6,729.9 787.0,731.1 788.3,732.6 789.6,734.4 791.0,736.6 792.3,736.9 793.7,736.7 795.0,736.3 796.4,735.4 797.7,735.2 799.3,733.0 800.8,730.6 802.4,729.9 803.8,732.6 805.1,735.7 806.4,737.7 807.8,740.6 809.2,738.0 810.7,736.2 812.1,735.5 813.6,734.4 815.0,732.6 816.5,729.9 818.0,730.3 819.5,731.3 821.0,732.1 822.5,733.9 823.9,740.6 825.3,738.0 826.6,734.1 828.0,729.9 829.5,729.6 830.9,731.0 832.4,731.5 833.8,731.9 835.2,732.4 836.7,732.5 838.0,732.8 839.4,733.3 840.7,735.3 842.1,737.4 843.4,736.6 844.8,736.4 846.1,736.2 847.4,737.8 848.8,737.9 850.1,738.3 851.5,738.3 852.9,741.1 854.2,743.3 855.5,742.2 856.9,740.9 858.2,739.1 859.5,736.6 860.7,733.7 861.8,731.6 863.0,729.0 864.3,728.0 865.7,727.2 867.0,727.2 868.6,728.4 870.2,728.4 871.8,730.9 873.4,732.0 875.0,732.5 876.5,732.3 878.0,731.4 879.5,729.7 881.0,730.9 882.5,728.5 884.0,732.3 885.4,732.4 886.9,733.9 888.3,735.3 889.8,737.2 891.2,739.3 892.6,738.5 893.9,737.7 895.2,735.0 896.6,733.9 898.0,734.6 899.3,735.5 900.6,737.7 902.0,739.3 903.3,737.3 904.7,736.1 906.0,734.6 907.4,731.6 908.7,731.2 910.0,732.1 911.4,735.0 912.7,736.6 914.3,734.1 915.9,732.2 917.6,729.5 919.2,729.6 920.8,727.2 922.4,729.2 923.9,730.2 925.5,732.5 927.1,734.7 928.6,736.4 930.2,736.6 931.7,735.4 933.3,734.2 934.8,733.4 936.4,732.8 937.9,729.5 939.5,729.5 941.0,728.5 942.6,728.9 944.2,732.4 945.8,733.3 947.4,735.5 949.0,736.6 950.5,736.1 952.1,737.0 953.6,736.3 955.2,734.8 956.7,733.4 958.3,734.5 959.8,733.9 961.4,733.6 963.1,732.3 964.7,731.5 966.4,730.4 968.0,731.0 969.7,730.7 971.3,728.5 973.0,727.3 974.6,727.2 976.2,728.6 977.8,728.2 979.4,730.1 981.0,731.5 982.6,732.5 984.0,734.8 985.3,738.2 986.7,739.3 988.0,736.9 989.4,735.7 990.7,733.5 992.0,731.2 993.5,731.6 995.1,732.5 996.6,732.7 998.2,733.1 999.7,732.9 1001.3,732.8 1002.8,733.9" fill="none" stroke="#17B5BC" stroke-width="5.4" stroke-linejoin="round" />
<line x1="71.90" y1="493.6" x2="71.90" y2="764.2" stroke="#222" stroke-width="2.3"/>
<line x1="70.7" y1="763.0" x2="379.5" y2="763.0" stroke="#2e2e2e" stroke-width="2.4"/>
<line x1="85.3" y1="764.3" x2="85.3" y2="769.4" stroke="#333" stroke-width="2"/>
<text x="85.3" y="786.1" font-size="17.8" text-anchor="middle" stroke="#4D4D4D" fill="#4D4D4D">0</text>
<line x1="168.6" y1="764.3" x2="168.6" y2="769.4" stroke="#333" stroke-width="2"/>
<text x="168.6" y="786.1" font-size="17.8" text-anchor="middle" stroke="#4D4D4D" fill="#4D4D4D">50</text>
<line x1="252.0" y1="764.3" x2="252.0" y2="769.4" stroke="#333" stroke-width="2"/>
<text x="252.0" y="786.1" font-size="17.8" text-anchor="middle" stroke="#4D4D4D" fill="#4D4D4D">100</text>
<line x1="335.3" y1="764.3" x2="335.3" y2="769.4" stroke="#333" stroke-width="2"/>
<text x="335.3" y="786.1" font-size="17.8" text-anchor="middle" stroke="#4D4D4D" fill="#4D4D4D">150</text>
<line x1="390.80" y1="493.6" x2="390.80" y2="764.2" stroke="#222" stroke-width="2.3"/>
<line x1="389.6" y1="763.0" x2="698.4" y2="763.0" stroke="#2e2e2e" stroke-width="2.4"/>
<line x1="404.3" y1="764.3" x2="404.3" y2="769.4" stroke="#333" stroke-width="2"/>
<text x="404.3" y="786.1" font-size="17.8" text-anchor="middle" stroke="#4D4D4D" fill="#4D4D4D">0</text>
<line x1="487.6" y1="764.3" x2="487.6" y2="769.4" stroke="#333" stroke-width="2"/>
<text x="487.6" y="786.1" font-size="17.8" text-anchor="middle" stroke="#4D4D4D" fill="#4D4D4D">50</text>
<line x1="571.0" y1="764.3" x2="571.0" y2="769.4" stroke="#333" stroke-width="2"/>
<text x="571.0" y="786.1" font-size="17.8" text-anchor="middle" stroke="#4D4D4D" fill="#4D4D4D">100</text>
<line x1="654.3" y1="764.3" x2="654.3" y2="769.4" stroke="#333" stroke-width="2"/>
<text x="654.3" y="786.1" font-size="17.8" text-anchor="middle" stroke="#4D4D4D" fill="#4D4D4D">150</text>
<line x1="710.20" y1="493.6" x2="710.20" y2="764.2" stroke="#222" stroke-width="2.3"/>
<line x1="709.0" y1="763.0" x2="1017.8" y2="763.0" stroke="#2e2e2e" stroke-width="2.4"/>
<line x1="723.0" y1="764.3" x2="723.0" y2="769.4" stroke="#333" stroke-width="2"/>
<text x="723.0" y="786.1" font-size="17.8" text-anchor="middle" stroke="#4D4D4D" fill="#4D4D4D">0</text>
<line x1="806.3" y1="764.3" x2="806.3" y2="769.4" stroke="#333" stroke-width="2"/>
<text x="806.3" y="786.1" font-size="17.8" text-anchor="middle" stroke="#4D4D4D" fill="#4D4D4D">50</text>
<line x1="889.7" y1="764.3" x2="889.7" y2="769.4" stroke="#333" stroke-width="2"/>
<text x="889.7" y="786.1" font-size="17.8" text-anchor="middle" stroke="#4D4D4D" fill="#4D4D4D">100</text>
<line x1="973.0" y1="764.3" x2="973.0" y2="769.4" stroke="#333" stroke-width="2"/>
<text x="973.0" y="786.1" font-size="17.8" text-anchor="middle" stroke="#4D4D4D" fill="#4D4D4D">150</text>
<line x1="66" y1="754.6" x2="71.3" y2="754.6" stroke="#333" stroke-width="1.9"/>
<text x="61.3" y="761.0" font-size="17.8" text-anchor="end" stroke="#4D4D4D" fill="#4D4D4D">0.000</text>
<line x1="66" y1="685.8" x2="71.3" y2="685.8" stroke="#333" stroke-width="1.9"/>
<text x="61.3" y="692.2" font-size="17.8" text-anchor="end" stroke="#4D4D4D" fill="#4D4D4D">0.025</text>
<line x1="66" y1="617.0" x2="71.3" y2="617.0" stroke="#333" stroke-width="1.9"/>
<text x="61.3" y="623.4" font-size="17.8" text-anchor="end" stroke="#4D4D4D" fill="#4D4D4D">0.050</text>
<line x1="66" y1="548.2" x2="71.3" y2="548.2" stroke="#333" stroke-width="1.9"/>
<text x="61.3" y="554.6" font-size="17.8" text-anchor="end" stroke="#4D4D4D" fill="#4D4D4D">0.075</text>
<text transform="translate(543.7 810.5) scale(1.03 1)" font-size="21" text-anchor="middle" stroke="#000" fill="#000">epoch</text>
<rect x="1048.5" y="610.6" width="35" height="67.7" fill="#F0F0F0"/>
<line x1="1051.8" x2="1080.2" y1="627.8" y2="627.8" stroke="#EA746D" stroke-width="6.3"/>
<line x1="1051.8" x2="1080.2" y1="661.4" y2="661.4" stroke="#17B5BC" stroke-width="6.3"/>
<text x="1094.0" y="633.4" font-size="17.0" stroke="#000" fill="#000">train</text>
<text x="1094.0" y="667.2" font-size="17.0" stroke="#000" fill="#000">val</text>
<text x="544.4" y="855.4" font-size="24.8" text-anchor="middle" stroke="#000" fill="#000">YOLOv5m</text>
<rect x="70.7" y="870.8" width="308.8" height="34.7" fill="#D9D9D9"/>
<text x="225.1" y="893.8" font-size="17.5" text-anchor="middle" stroke="#1A1A1A" fill="#1A1A1A">box_loss</text>
<rect x="389.6" y="870.8" width="308.8" height="34.7" fill="#D9D9D9"/>
<text x="544.0" y="893.8" font-size="17.5" text-anchor="middle" stroke="#1A1A1A" fill="#1A1A1A">obj_loss</text>
<rect x="709.0" y="870.8" width="308.8" height="34.7" fill="#D9D9D9"/>
<text x="863.4" y="893.8" font-size="17.5" text-anchor="middle" stroke="#1A1A1A" fill="#1A1A1A">cls_loss</text>
<polyline points="85.4,917.8 86.1,999.1 87.4,1006.3 88.8,1012.5 90.1,1020.2 91.5,1025.7 92.8,1032.7 93.9,1038.8 95.1,1046.2 96.2,1052.8 97.6,1062.0 98.9,1069.0 100.2,1071.6 101.6,1072.7 102.9,1074.8 104.3,1077.4 105.6,1079.7 106.9,1082.2 108.3,1083.6 109.6,1085.2 111.0,1087.1 112.3,1089.1 113.8,1090.0 115.3,1090.2 116.8,1091.3 118.3,1092.3 119.8,1094.0 121.3,1093.8 122.8,1095.1 124.3,1094.6 125.8,1095.9 127.3,1097.1 128.8,1097.6 130.3,1097.9 131.8,1098.8 133.2,1100.2 134.7,1100.3 136.2,1101.8 137.7,1103.0 139.2,1102.6 140.8,1104.1 142.4,1104.4 143.9,1102.8 145.5,1103.7 147.1,1103.4 148.7,1104.6 150.2,1104.4 151.8,1104.7 153.4,1105.1 155.0,1104.7 156.5,1105.2 158.1,1105.0 159.7,1106.9 161.3,1105.9 162.8,1106.2 164.4,1105.3 166.0,1106.6 167.6,1105.7 169.2,1106.3 170.8,1107.7 172.4,1108.1 173.9,1108.1 175.5,1107.7 177.1,1109.4 178.7,1108.1 180.3,1108.1 181.9,1109.2 183.5,1108.6 185.1,1109.5 186.6,1110.3 188.2,1110.0 189.8,1110.4 191.4,1110.5 193.0,1110.6 194.7,1110.4 196.3,1108.9 197.9,1110.0 199.6,1111.1 201.2,1110.4 202.9,1111.1 204.6,1111.9 206.2,1112.9 207.8,1111.5 209.5,1111.9 211.2,1112.6 212.8,1113.1 214.4,1112.1 216.1,1114.1 217.8,1112.9 219.4,1114.1 221.1,1113.6 222.7,1114.0 224.3,1115.1 226.0,1114.1 227.6,1114.9 229.3,1114.5 230.9,1113.8 232.6,1114.0 234.2,1113.6 235.9,1115.8 237.5,1114.0 239.2,1113.1 240.8,1115.6 242.4,1116.0 244.1,1115.1 245.7,1115.7 247.4,1114.9 249.0,1115.0 250.7,1115.7 252.3,1115.9 254.0,1115.4 255.6,1116.8 257.2,1116.5 258.9,1116.2 260.5,1115.3 262.2,1116.1 263.8,1116.0 265.5,1116.2 267.1,1116.9 268.8,1116.2 270.4,1116.7 272.0,1117.2 273.7,1117.1 275.3,1118.4 277.0,1116.1 278.6,1116.8 280.3,1116.3 281.9,1117.0 283.6,1118.9 285.2,1116.7 286.8,1117.2 288.5,1117.9 290.1,1117.8 291.8,1118.4 293.4,1117.0 295.1,1118.4 296.7,1117.5 298.4,1117.2 300.0,1118.2 301.6,1118.5 303.3,1118.8 304.9,1118.1 306.6,1118.0 308.2,1118.5 309.9,1118.8 311.5,1118.8 313.2,1118.3 314.8,1117.5 316.4,1119.7 318.1,1119.5 319.7,1118.7 321.4,1118.4 323.0,1118.9 324.7,1119.3 326.3,1118.4 328.0,1120.5 329.6,1120.4 331.3,1120.0 332.9,1120.4 334.5,1120.5 336.2,1121.1 337.8,1120.8 339.5,1121.5 341.1,1121.9 342.8,1120.8 344.4,1120.6 346.1,1120.4 347.7,1120.8 349.4,1120.7 351.0,1121.2 352.6,1121.6 354.3,1121.9 355.9,1120.9 357.6,1122.3 359.2,1121.7 360.9,1121.8 362.5,1121.7 364.2,1120.8 365.8,1122.2" fill="none" stroke="#EA746D" stroke-width="5.4" stroke-linejoin="round" />
<polyline points="84.1,1050.2 85.4,1071.7 86.5,1059.1 87.5,1046.1 88.7,1042.7 89.8,1039.4 90.9,1051.8 92.1,1062.2 93.2,1073.0 94.2,1089.9 95.3,1106.6 96.5,1102.0 97.8,1097.0 98.8,1108.4 99.8,1120.0 101.0,1118.6 102.3,1117.8 103.5,1116.5 105.0,1119.8 106.4,1123.6 107.9,1126.8 109.1,1125.0 110.3,1122.6 111.5,1121.4 113.0,1123.0 114.5,1125.3 116.0,1127.1 117.5,1129.9 119.0,1132.2 120.4,1131.2 121.7,1130.8 123.1,1129.5 124.4,1128.8 125.8,1128.1 127.4,1128.8 129.0,1129.4 130.5,1129.3 132.1,1130.5 133.7,1130.4 135.3,1131.4 136.9,1131.5 138.5,1131.9 140.0,1132.1 141.6,1132.9 143.2,1133.5 144.8,1134.4 146.5,1133.6 148.1,1134.3 149.7,1134.4 151.3,1133.9 153.0,1134.4 154.6,1134.7 156.2,1134.2 157.9,1134.2 159.5,1134.8 161.1,1134.7 162.7,1135.4 164.4,1135.0 166.0,1134.8 167.7,1134.5 169.3,1134.7 171.0,1134.4 172.7,1135.0 174.3,1135.1 176.0,1134.8 177.7,1134.6 179.3,1135.1 181.0,1134.8 182.7,1135.3 184.3,1134.7 186.0,1134.8 187.7,1134.7 189.3,1134.6 191.0,1135.8 192.7,1135.7 194.3,1134.9 196.0,1135.3 197.7,1134.5 199.3,1135.3 201.0,1135.5 202.7,1135.0 204.3,1134.9 206.0,1135.1 207.7,1135.2 209.3,1135.0 211.0,1134.8 212.7,1135.0 214.3,1134.9 216.0,1135.4 217.7,1135.2 219.3,1135.3 221.0,1134.6 222.7,1134.9 224.3,1135.0 226.0,1135.2 227.7,1135.0 229.3,1135.1 231.0,1135.1 232.7,1134.6 234.3,1135.4 236.0,1135.5 237.7,1135.0 239.3,1135.3 241.0,1134.8 242.6,1134.6 244.3,1134.9 246.0,1135.6 247.6,1135.1 249.3,1134.6 251.0,1135.0 252.6,1134.9 254.3,1134.8 256.0,1135.1 257.6,1134.5 259.3,1134.3 260.9,1134.4 262.6,1135.2 264.3,1135.1 265.9,1134.8 267.6,1134.7 269.3,1135.1 270.9,1135.4 272.6,1134.8 274.3,1135.0 275.9,1135.7 277.6,1135.3 279.3,1134.9 280.9,1135.0 282.6,1135.0 284.2,1135.1 285.9,1135.0 287.6,1134.7 289.2,1134.8 290.9,1135.0 292.6,1134.6 294.2,1134.8 295.9,1134.5 297.6,1135.2 299.2,1135.4 300.9,1134.6 302.6,1135.0 304.2,1134.9 305.9,1134.8 307.6,1134.7 309.2,1134.8 310.9,1135.1 312.5,1134.4 314.2,1135.0 315.9,1134.7 317.5,1134.3 319.2,1134.6 320.9,1134.9 322.5,1134.7 324.2,1134.8 325.9,1134.6 327.5,1134.4 329.2,1134.9 330.9,1134.4 332.5,1134.9 334.2,1134.8 335.8,1134.5 337.5,1134.5 339.2,1134.5 340.8,1134.5 342.5,1134.5 344.2,1134.5 345.8,1133.9 347.5,1133.7 349.2,1134.5 350.8,1134.3 352.5,1134.3 354.1,1134.4 355.8,1134.1 357.5,1134.9 359.1,1134.5 360.8,1134.4 362.5,1134.1 364.1,1134.7 365.8,1134.4" fill="none" stroke="#17B5BC" stroke-width="5.4" stroke-linejoin="round" />
<polyline points="404.1,1045.3 405.5,1061.9 406.8,1078.9 407.9,1084.6 409.1,1093.0 410.2,1099.1 411.5,1106.4 412.9,1110.5 414.2,1115.2 415.6,1117.8 416.9,1119.5 418.2,1120.9 419.6,1121.9 421.1,1123.1 422.7,1123.9 424.2,1123.7 425.7,1123.3 427.2,1123.6 428.8,1125.6 430.3,1126.0 431.8,1126.9 433.4,1127.2 434.9,1126.3 436.5,1127.9 438.0,1128.7 439.6,1128.8 441.1,1130.0 442.7,1129.6 444.4,1131.5 446.0,1131.5 447.7,1131.3 449.3,1131.1 450.9,1130.7 452.6,1130.8 454.2,1131.6 455.9,1130.9 457.5,1131.3 459.1,1132.6 460.8,1131.2 462.4,1131.4 464.0,1133.1 465.7,1132.7 467.3,1132.6 469.0,1132.1 470.6,1132.7 472.2,1131.8 473.8,1133.3 475.4,1131.4 477.1,1132.9 478.7,1132.6 480.3,1132.9 481.9,1131.8 483.5,1133.4 485.1,1133.6 486.8,1133.5 488.4,1133.6 490.0,1132.6 491.6,1133.3 493.2,1133.7 494.8,1133.5 496.5,1131.6 498.1,1133.1 499.7,1133.6 501.3,1133.0 502.9,1133.6 504.5,1134.6 506.2,1133.9 507.8,1134.7 509.4,1133.8 511.0,1134.0 512.6,1133.5 514.3,1134.1 516.0,1133.5 517.6,1133.0 519.2,1134.1 520.9,1134.1 522.5,1134.5 524.2,1133.7 525.9,1133.9 527.5,1134.5 529.1,1134.0 530.8,1134.1 532.5,1134.4 534.1,1133.9 535.8,1134.4 537.4,1133.5 539.0,1134.5 540.7,1136.1 542.4,1135.2 544.0,1134.5 545.7,1134.4 547.3,1133.6 549.0,1133.7 550.6,1134.3 552.3,1134.1 553.9,1134.9 555.6,1134.8 557.2,1135.2 558.9,1134.7 560.5,1135.3 562.2,1135.7 563.8,1134.5 565.5,1134.7 567.1,1134.8 568.8,1134.8 570.4,1135.6 572.1,1134.9 573.7,1134.5 575.4,1134.1 577.0,1134.0 578.7,1134.8 580.3,1135.6 582.0,1135.3 583.7,1134.7 585.3,1135.0 587.0,1134.7 588.6,1135.8 590.3,1135.5 591.9,1136.2 593.6,1135.9 595.2,1135.9 596.9,1134.9 598.5,1135.6 600.2,1135.3 601.8,1135.1 603.5,1135.6 605.1,1136.5 606.8,1136.1 608.4,1136.9 610.1,1136.3 611.7,1135.0 613.4,1135.3 615.0,1136.8 616.7,1136.3 618.3,1136.0 620.0,1135.8 621.7,1135.6 623.3,1135.9 625.0,1136.2 626.6,1135.8 628.3,1135.9 629.9,1136.2 631.6,1135.4 633.2,1135.8 634.9,1135.6 636.5,1135.7 638.2,1135.6 639.8,1135.7 641.5,1135.7 643.2,1137.2 644.8,1136.4 646.5,1136.6 648.1,1135.9 649.8,1136.4 651.4,1136.7 653.1,1137.5 654.7,1137.7 656.4,1136.5 658.0,1137.6 659.7,1136.8 661.3,1137.4 663.0,1136.8 664.7,1137.1 666.3,1136.8 668.0,1136.0 669.6,1137.0 671.3,1136.7 672.9,1136.7 674.6,1137.0 676.2,1137.2 677.9,1138.5 679.5,1136.6 681.2,1136.6 682.8,1136.4 684.5,1137.0" fill="none" stroke="#EA746D" stroke-width="5.4" stroke-linejoin="round" />
<polyline points="403.4,1093.7 404.8,1109.8 405.8,1115.5 406.8,1121.9 407.8,1117.5 408.8,1112.5 410.1,1112.6 411.5,1112.5 412.5,1120.5 413.5,1128.7 414.6,1132.5 415.8,1135.6 416.9,1139.4 418.5,1140.8 420.1,1141.5 421.7,1142.3 423.3,1143.4 424.9,1144.1 426.5,1144.0 428.0,1144.4 429.6,1144.7 431.2,1144.9 432.8,1144.9 434.4,1144.6 435.9,1145.0 437.5,1144.7 439.1,1145.2 440.6,1145.1 442.2,1145.2 443.8,1145.5 445.4,1145.7 447.0,1146.1 448.6,1146.1 450.2,1145.7 451.9,1145.7 453.5,1145.6 455.1,1145.7 456.7,1145.9 458.3,1146.1 459.9,1146.0 461.5,1146.1 463.1,1145.9 464.8,1146.0 466.4,1146.5 468.0,1146.7 469.6,1146.5 471.2,1146.5 472.8,1146.5 474.4,1146.4 476.0,1146.3 477.7,1146.7 479.3,1146.4 480.9,1146.8 482.5,1146.5 484.1,1146.8 485.8,1146.7 487.4,1147.1 489.1,1146.9 490.8,1146.7 492.4,1146.7 494.1,1146.3 495.7,1146.7 497.4,1146.4 499.1,1146.3 500.7,1146.3 502.4,1146.4 504.1,1146.2 505.7,1146.2 507.4,1146.4 509.1,1146.4 510.7,1146.6 512.4,1146.5 514.0,1146.5 515.7,1146.0 517.4,1146.1 519.0,1146.2 520.7,1146.3 522.4,1146.0 524.0,1146.1 525.7,1146.3 527.4,1145.8 529.0,1145.7 530.7,1145.6 532.4,1145.8 534.0,1145.5 535.7,1145.7 537.3,1145.6 539.0,1145.4 540.7,1145.2 542.3,1146.1 544.0,1145.6 545.7,1146.0 547.3,1145.9 549.0,1145.3 550.6,1145.8 552.3,1145.6 553.9,1145.3 555.6,1145.4 557.2,1145.5 558.9,1146.0 560.5,1145.7 562.2,1145.6 563.8,1145.7 565.5,1145.8 567.1,1145.4 568.8,1145.8 570.4,1145.7 572.1,1145.9 573.8,1146.1 575.4,1145.6 577.1,1146.2 578.7,1145.7 580.4,1145.6 582.0,1145.1 583.7,1145.9 585.3,1145.6 587.0,1145.5 588.6,1145.5 590.3,1145.7 591.9,1145.9 593.6,1145.9 595.2,1145.6 596.9,1145.5 598.5,1145.2 600.2,1145.4 601.9,1145.7 603.5,1145.6 605.2,1146.1 606.8,1146.0 608.5,1145.6 610.1,1145.8 611.8,1145.7 613.4,1145.5 615.1,1145.5 616.7,1145.3 618.4,1145.5 620.0,1145.9 621.7,1145.6 623.3,1146.0 625.0,1145.7 626.6,1145.8 628.3,1145.8 630.0,1145.5 631.6,1145.4 633.3,1145.7 634.9,1145.9 636.6,1145.7 638.2,1145.6 639.9,1145.0 641.5,1145.4 643.2,1145.8 644.8,1146.0 646.5,1145.8 648.1,1145.5 649.8,1145.9 651.4,1145.7 653.1,1145.9 654.7,1146.1 656.4,1145.5 658.1,1145.6 659.7,1145.7 661.4,1145.8 663.0,1145.7 664.7,1145.9 666.3,1146.0 668.0,1145.6 669.6,1145.7 671.3,1145.9 672.9,1145.5 674.6,1145.5 676.2,1145.2 677.9,1145.4 679.5,1146.1 681.2,1146.3 682.8,1145.7 684.5,1145.7" fill="none" stroke="#17B5BC" stroke-width="5.4" stroke-linejoin="round" />
<polyline points="723.1,1091.8 723.8,1104.6 725.3,1105.1 726.8,1105.8 728.3,1107.8 729.8,1108.6 731.4,1112.6 732.9,1117.6 734.5,1120.7 735.9,1124.3 737.2,1126.6 738.5,1130.2 739.9,1132.8 741.2,1135.4 742.6,1137.2 743.9,1140.3 745.3,1142.2 746.8,1142.7 748.4,1144.8 749.9,1145.3 751.4,1145.2 752.9,1145.9 754.5,1147.3 756.0,1147.6 757.5,1147.5 759.0,1148.6 760.5,1148.6 762.0,1149.9 763.5,1150.6 765.0,1152.0 766.5,1151.8 768.0,1152.4 769.5,1153.0 771.0,1153.9 772.6,1153.0 774.1,1154.1 775.7,1153.6 777.2,1153.1 778.8,1154.2 780.3,1154.5 781.9,1154.0 783.4,1155.2 785.0,1155.6 786.5,1154.5 788.1,1154.5 789.6,1155.0 791.2,1155.1 792.8,1155.2 794.3,1155.1 795.9,1156.0 797.5,1156.0 799.1,1156.3 800.7,1156.4 802.3,1156.6 803.8,1156.3 805.4,1156.3 807.0,1156.8 808.6,1157.0 810.2,1158.0 811.8,1158.0 813.3,1157.5 814.9,1157.4 816.5,1158.3 818.1,1158.9 819.7,1158.6 821.2,1158.8 822.8,1157.7 824.4,1158.1 826.0,1158.7 827.6,1159.2 829.2,1158.2 830.7,1158.3 832.3,1158.2 833.9,1158.4 835.5,1158.2 837.1,1158.5 838.7,1158.3 840.2,1159.0 841.8,1158.3 843.4,1158.3 845.0,1157.9 846.7,1157.7 848.3,1158.5 849.9,1157.5 851.6,1157.8 853.2,1158.7 854.8,1159.6 856.5,1157.9 858.1,1158.3 859.7,1158.7 861.4,1158.9 863.0,1159.0 864.6,1159.9 866.3,1159.6 867.9,1159.0 869.6,1159.8 871.2,1159.9 872.8,1159.7 874.5,1158.8 876.1,1159.5 877.8,1160.5 879.4,1159.6 881.0,1159.9 882.7,1158.7 884.3,1159.0 885.9,1159.1 887.6,1159.8 889.2,1160.6 890.9,1159.5 892.5,1160.0 894.1,1160.1 895.8,1159.4 897.4,1160.0 899.1,1159.7 900.7,1160.0 902.3,1159.4 904.0,1160.1 905.6,1160.4 907.3,1160.1 908.9,1159.7 910.5,1159.0 912.2,1159.2 913.8,1160.5 915.4,1160.2 917.1,1159.9 918.7,1160.6 920.4,1160.5 922.0,1159.7 923.6,1160.0 925.3,1160.5 926.9,1160.4 928.6,1160.0 930.2,1160.3 931.9,1159.9 933.5,1158.5 935.2,1159.5 936.8,1159.1 938.5,1160.7 940.1,1161.0 941.8,1160.4 943.4,1160.3 945.1,1160.0 946.7,1160.6 948.4,1160.9 950.0,1161.0 951.6,1161.7 953.3,1161.4 955.0,1161.1 956.6,1161.3 958.2,1160.7 959.9,1160.5 961.5,1161.7 963.2,1160.4 964.9,1160.0 966.5,1160.2 968.1,1161.0 969.8,1160.1 971.5,1160.8 973.1,1162.0 974.8,1161.2 976.4,1161.5 978.0,1160.0 979.7,1160.4 981.4,1160.2 983.0,1161.3 984.6,1161.1 986.3,1161.7 987.9,1161.3 989.6,1161.4 991.2,1160.1 992.9,1160.6 994.5,1162.1 996.2,1160.4 997.8,1160.6 999.5,1160.9 1001.1,1160.4 1002.8,1161.0" fill="none" stroke="#EA746D" stroke-width="5.4" stroke-linejoin="round" />
<polyline points="724.5,1121.4 726.0,1123.5 727.5,1125.4 729.0,1126.7 730.5,1128.8 731.9,1129.8 733.2,1131.9 734.5,1133.4 735.9,1134.1 737.5,1137.9 739.0,1142.3 740.6,1146.2 742.0,1145.3 743.5,1146.8 745.0,1146.6 746.4,1146.6 747.8,1146.7 749.3,1146.2 750.6,1146.7 752.0,1148.5 753.4,1148.6 754.7,1147.6 756.3,1145.7 757.8,1146.5 759.4,1143.5 761.0,1146.2 762.5,1147.5 764.1,1147.6 765.7,1143.3 767.2,1140.2 768.8,1136.8 769.9,1140.1 771.1,1143.5 772.2,1147.6 773.5,1147.9 774.9,1149.1 776.2,1148.6 777.6,1148.8 778.9,1148.9 780.5,1148.5 782.1,1146.9 783.8,1147.1 785.4,1147.5 787.0,1146.2 788.3,1144.9 789.7,1142.3 791.0,1141.0 792.4,1139.2 793.7,1136.8 795.3,1139.9 796.8,1142.8 798.4,1144.9 800.0,1144.7 801.7,1142.2 803.3,1144.9 804.8,1147.0 806.4,1148.9 807.9,1146.4 809.5,1144.4 811.0,1143.2 812.5,1140.9 813.8,1143.3 815.2,1142.9 816.5,1143.8 817.9,1144.8 819.2,1146.2 820.5,1147.5 821.9,1148.9 823.2,1149.2 824.6,1150.5 825.9,1150.3 827.5,1148.7 829.1,1147.1 830.8,1145.9 832.4,1145.3 834.0,1142.2 835.1,1144.8 836.3,1148.4 837.4,1150.3 838.9,1149.5 840.4,1147.6 841.9,1145.8 843.4,1146.2 844.7,1146.2 846.1,1146.6 847.4,1146.2 848.8,1146.5 850.1,1147.6 851.5,1147.7 852.8,1147.7 854.1,1149.3 855.5,1149.6 856.8,1146.8 858.2,1145.1 859.5,1140.9 860.7,1141.9 861.8,1143.1 863.0,1143.5 864.3,1144.5 865.7,1145.2 867.0,1145.3 868.4,1147.1 869.7,1147.6 871.3,1145.4 872.8,1145.6 874.4,1143.9 876.0,1142.4 877.5,1143.7 879.1,1140.9 880.4,1143.2 881.8,1144.3 883.1,1146.9 884.5,1148.6 885.8,1150.3 887.4,1149.4 889.0,1147.9 890.7,1146.5 892.3,1144.7 893.9,1143.5 895.5,1143.5 897.1,1143.5 898.8,1144.8 900.4,1146.6 902.0,1146.2 903.5,1146.0 905.0,1145.1 906.5,1144.9 908.0,1143.6 909.6,1141.7 911.1,1140.8 912.6,1141.0 914.1,1139.5 915.4,1142.1 916.8,1140.9 918.1,1142.5 919.5,1143.1 920.8,1144.9 922.4,1144.9 923.9,1147.1 925.5,1147.1 927.1,1149.4 928.6,1149.1 930.2,1150.3 931.6,1148.9 932.9,1145.6 934.2,1144.0 935.6,1142.2 937.1,1143.3 938.6,1142.1 940.1,1143.5 941.6,1143.1 943.0,1143.7 944.5,1145.1 946.0,1144.1 947.5,1145.8 949.0,1146.2 950.3,1144.3 951.7,1142.2 953.0,1140.5 954.4,1138.9 955.7,1136.8 957.1,1137.8 958.4,1140.5 959.8,1140.9 961.1,1142.1 962.5,1143.5 964.1,1144.6 965.7,1144.8 967.3,1146.4 968.9,1147.8 970.5,1148.9 971.8,1148.3 973.2,1147.4 974.5,1147.0 975.9,1145.3 977.2,1144.9 978.8,1145.7 980.4,1145.1 982.0,1143.7 983.5,1143.9 985.1,1143.4 986.7,1143.5 988.2,1144.3 989.8,1145.8 991.3,1145.7 992.8,1146.4 994.3,1146.1 995.9,1145.8 997.4,1147.6 999.0,1144.1 1000.5,1144.3 1002.1,1139.5" fill="none" stroke="#17B5BC" stroke-width="5.4" stroke-linejoin="round" />
<line x1="71.90" y1="905.5" x2="71.90" y2="1175.6" stroke="#222" stroke-width="2.3"/>
<line x1="70.7" y1="1174.4" x2="379.5" y2="1174.4" stroke="#2e2e2e" stroke-width="2.4"/>
<line x1="85.3" y1="1175.7" x2="85.3" y2="1180.8" stroke="#333" stroke-width="2"/>
<text x="85.3" y="1197.5" font-size="17.8" text-anchor="middle" stroke="#4D4D4D" fill="#4D4D4D">0</text>
<line x1="168.6" y1="1175.7" x2="168.6" y2="1180.8" stroke="#333" stroke-width="2"/>
<text x="168.6" y="1197.5" font-size="17.8" text-anchor="middle" stroke="#4D4D4D" fill="#4D4D4D">50</text>
<line x1="252.0" y1="1175.7" x2="252.0" y2="1180.8" stroke="#333" stroke-width="2"/>
<text x="252.0" y="1197.5" font-size="17.8" text-anchor="middle" stroke="#4D4D4D" fill="#4D4D4D">100</text>
<line x1="335.3" y1="1175.7" x2="335.3" y2="1180.8" stroke="#333" stroke-width="2"/>
<text x="335.3" y="1197.5" font-size="17.8" text-anchor="middle" stroke="#4D4D4D" fill="#4D4D4D">150</text>
<line x1="390.80" y1="905.5" x2="390.80" y2="1175.6" stroke="#222" stroke-width="2.3"/>
<line x1="389.6" y1="1174.4" x2="698.4" y2="1174.4" stroke="#2e2e2e" stroke-width="2.4"/>
<line x1="404.3" y1="1175.7" x2="404.3" y2="1180.8" stroke="#333" stroke-width="2"/>
<text x="404.3" y="1197.5" font-size="17.8" text-anchor="middle" stroke="#4D4D4D" fill="#4D4D4D">0</text>
<line x1="487.6" y1="1175.7" x2="487.6" y2="1180.8" stroke="#333" stroke-width="2"/>
<text x="487.6" y="1197.5" font-size="17.8" text-anchor="middle" stroke="#4D4D4D" fill="#4D4D4D">50</text>
<line x1="571.0" y1="1175.7" x2="571.0" y2="1180.8" stroke="#333" stroke-width="2"/>
<text x="571.0" y="1197.5" font-size="17.8" text-anchor="middle" stroke="#4D4D4D" fill="#4D4D4D">100</text>
<line x1="654.3" y1="1175.7" x2="654.3" y2="1180.8" stroke="#333" stroke-width="2"/>
<text x="654.3" y="1197.5" font-size="17.8" text-anchor="middle" stroke="#4D4D4D" fill="#4D4D4D">150</text>
<line x1="710.20" y1="905.5" x2="710.20" y2="1175.6" stroke="#222" stroke-width="2.3"/>
<line x1="709.0" y1="1174.4" x2="1017.8" y2="1174.4" stroke="#2e2e2e" stroke-width="2.4"/>
<line x1="723.0" y1="1175.7" x2="723.0" y2="1180.8" stroke="#333" stroke-width="2"/>
<text x="723.0" y="1197.5" font-size="17.8" text-anchor="middle" stroke="#4D4D4D" fill="#4D4D4D">0</text>
<line x1="806.3" y1="1175.7" x2="806.3" y2="1180.8" stroke="#333" stroke-width="2"/>
<text x="806.3" y="1197.5" font-size="17.8" text-anchor="middle" stroke="#4D4D4D" fill="#4D4D4D">50</text>
<line x1="889.7" y1="1175.7" x2="889.7" y2="1180.8" stroke="#333" stroke-width="2"/>
<text x="889.7" y="1197.5" font-size="17.8" text-anchor="middle" stroke="#4D4D4D" fill="#4D4D4D">100</text>
<line x1="973.0" y1="1175.7" x2="973.0" y2="1180.8" stroke="#333" stroke-width="2"/>
<text x="973.0" y="1197.5" font-size="17.8" text-anchor="middle" stroke="#4D4D4D" fill="#4D4D4D">150</text>
<line x1="66" y1="1166.6" x2="71.3" y2="1166.6" stroke="#333" stroke-width="1.9"/>
<text x="61.3" y="1173.0" font-size="17.8" text-anchor="end" stroke="#4D4D4D" fill="#4D4D4D">0.000</text>
<line x1="66" y1="1098.2" x2="71.3" y2="1098.2" stroke="#333" stroke-width="1.9"/>
<text x="61.3" y="1104.6" font-size="17.8" text-anchor="end" stroke="#4D4D4D" fill="#4D4D4D">0.025</text>
<line x1="66" y1="1029.7" x2="71.3" y2="1029.7" stroke="#333" stroke-width="1.9"/>
<text x="61.3" y="1036.1" font-size="17.8" text-anchor="end" stroke="#4D4D4D" fill="#4D4D4D">0.050</text>
<line x1="66" y1="961.2" x2="71.3" y2="961.2" stroke="#333" stroke-width="1.9"/>
<text x="61.3" y="967.6" font-size="17.8" text-anchor="end" stroke="#4D4D4D" fill="#4D4D4D">0.075</text>
<text transform="translate(543.7 1221.9) scale(1.03 1)" font-size="21" text-anchor="middle" stroke="#000" fill="#000">epoch</text>
<rect x="1048.5" y="1022.0" width="35" height="67.7" fill="#F0F0F0"/>
<line x1="1051.8" x2="1080.2" y1="1039.2" y2="1039.2" stroke="#EA746D" stroke-width="6.3"/>
<line x1="1051.8" x2="1080.2" y1="1072.8" y2="1072.8" stroke="#17B5BC" stroke-width="6.3"/>
<text x="1094.0" y="1044.8" font-size="17.0" stroke="#000" fill="#000">train</text>
<text x="1094.0" y="1078.6" font-size="17.0" stroke="#000" fill="#000">val</text>
<text x="544.4" y="1266.3" font-size="24.8" text-anchor="middle" stroke="#000" fill="#000">YOLOv5s</text>
<rect x="70.7" y="1281.8" width="308.8" height="34.7" fill="#D9D9D9"/>
<text x="225.1" y="1304.8" font-size="17.5" text-anchor="middle" stroke="#1A1A1A" fill="#1A1A1A">box_loss</text>
<rect x="389.6" y="1281.8" width="308.8" height="34.7" fill="#D9D9D9"/>
<text x="544.0" y="1304.8" font-size="17.5" text-anchor="middle" stroke="#1A1A1A" fill="#1A1A1A">obj_loss</text>
<rect x="709.0" y="1281.8" width="308.8" height="34.7" fill="#D9D9D9"/>
<text x="863.4" y="1304.8" font-size="17.5" text-anchor="middle" stroke="#1A1A1A" fill="#1A1A1A">cls_loss</text>
<polyline points="85.4,1328.8 86.8,1423.5 87.8,1426.5 88.8,1428.9 90.2,1428.3 91.5,1427.6 92.8,1438.3 94.2,1450.4 95.6,1461.0 96.9,1470.6 98.5,1476.3 100.0,1481.6 101.6,1486.7 103.2,1489.6 104.8,1493.2 106.4,1495.6 108.0,1498.4 109.6,1500.1 110.9,1501.5 112.3,1502.5 113.7,1503.4 115.0,1505.5 116.5,1505.4 118.1,1504.0 119.6,1506.8 121.2,1506.6 122.7,1506.6 124.3,1507.3 125.8,1506.9 127.1,1508.1 128.5,1509.7 129.8,1511.5 131.2,1511.3 132.5,1513.6 134.0,1515.1 135.5,1514.8 137.0,1515.4 138.5,1514.8 139.9,1515.3 141.4,1517.3 142.9,1516.6 144.4,1516.9 145.9,1517.6 147.4,1518.0 149.0,1518.9 150.5,1516.5 152.1,1518.8 153.6,1518.5 155.2,1518.9 156.7,1517.8 158.3,1518.6 159.8,1519.7 161.4,1518.9 162.9,1518.4 164.5,1518.5 166.0,1519.0 167.6,1518.9 169.1,1520.1 170.7,1520.2 172.2,1520.0 173.8,1521.0 175.3,1520.2 176.9,1520.0 178.4,1523.0 180.0,1521.6 181.5,1523.2 183.1,1522.6 184.6,1522.6 186.2,1523.0 187.8,1523.5 189.3,1522.8 190.9,1522.8 192.4,1523.4 194.0,1523.5 195.5,1524.4 197.1,1525.5 198.6,1523.7 200.2,1523.7 201.7,1524.9 203.3,1525.1 204.8,1525.7 206.4,1525.0 208.0,1524.8 209.7,1525.5 211.3,1525.3 212.9,1524.3 214.6,1525.6 216.2,1524.5 217.8,1525.8 219.5,1525.5 221.1,1525.7 222.7,1527.4 224.4,1527.4 226.0,1526.1 227.6,1526.8 229.3,1526.7 230.9,1525.9 232.6,1527.2 234.2,1527.1 235.9,1526.1 237.5,1525.4 239.2,1526.5 240.8,1526.7 242.4,1527.5 244.1,1526.4 245.7,1526.4 247.4,1527.3 249.0,1527.4 250.7,1528.0 252.3,1528.3 254.0,1527.1 255.6,1525.9 257.2,1527.4 258.9,1527.2 260.5,1527.9 262.2,1526.1 263.8,1527.6 265.5,1528.1 267.1,1527.8 268.8,1528.5 270.4,1528.5 272.0,1528.6 273.7,1529.4 275.3,1529.7 277.0,1529.7 278.6,1529.2 280.3,1529.0 281.9,1529.3 283.6,1529.3 285.2,1528.6 286.8,1529.3 288.5,1529.9 290.1,1529.2 291.8,1528.6 293.4,1529.7 295.1,1529.1 296.7,1528.5 298.4,1529.3 300.0,1529.8 301.6,1528.8 303.3,1530.0 304.9,1529.7 306.6,1530.1 308.2,1531.0 309.9,1531.3 311.5,1530.5 313.2,1529.0 314.8,1530.0 316.4,1529.7 318.1,1531.2 319.7,1532.0 321.4,1531.6 323.0,1531.6 324.7,1531.6 326.3,1531.8 328.0,1531.1 329.6,1531.9 331.3,1531.3 332.9,1530.7 334.5,1531.5 336.2,1532.8 337.8,1531.9 339.5,1530.7 341.1,1532.6 342.8,1532.3 344.4,1532.6 346.1,1532.0 347.7,1532.6 349.4,1533.5 351.0,1532.2 352.6,1533.0 354.3,1533.0 355.9,1532.2 357.6,1532.8 359.2,1533.3 360.9,1532.5 362.5,1533.8 364.2,1532.5 365.8,1533.2" fill="none" stroke="#EA746D" stroke-width="5.4" stroke-linejoin="round" />
<polyline points="85.4,1469.2 86.0,1481.3 87.5,1470.0 88.8,1496.1 89.7,1484.2 90.5,1472.0 91.5,1470.7 92.6,1469.2 93.8,1483.1 95.0,1497.4 96.4,1531.0 97.6,1528.9 98.8,1525.3 100.0,1523.0 101.6,1533.7 102.9,1534.7 104.2,1536.0 105.6,1537.1 106.9,1537.8 108.3,1537.8 109.6,1537.0 111.0,1537.5 112.3,1536.6 113.7,1536.4 115.0,1537.7 116.3,1539.1 117.7,1540.5 119.0,1541.8 120.6,1541.8 122.1,1542.7 123.7,1542.6 125.2,1543.0 126.8,1542.4 128.3,1543.2 129.9,1543.2 131.4,1543.6 133.0,1543.8 134.5,1544.1 136.1,1544.1 137.6,1544.3 139.2,1544.5 140.8,1544.4 142.3,1544.4 143.9,1544.2 145.5,1543.9 147.0,1544.0 148.6,1543.6 150.2,1544.3 151.7,1544.0 153.3,1544.0 154.9,1543.4 156.4,1542.8 158.0,1543.1 159.6,1543.0 161.3,1543.6 162.9,1544.2 164.6,1544.7 166.2,1545.2 167.9,1546.0 169.5,1545.6 171.2,1547.2 172.8,1547.2 174.5,1547.2 176.1,1547.2 177.8,1546.6 179.5,1547.1 181.1,1546.7 182.8,1547.2 184.4,1547.3 186.1,1547.2 187.8,1547.1 189.4,1547.0 191.1,1547.0 192.8,1547.4 194.4,1547.2 196.1,1547.2 197.7,1547.9 199.4,1547.3 201.1,1546.8 202.7,1546.3 204.4,1546.1 206.1,1546.9 207.7,1547.3 209.4,1546.8 211.0,1546.6 212.7,1546.9 214.4,1547.1 216.0,1547.4 217.7,1547.1 219.3,1546.8 221.0,1547.2 222.7,1546.7 224.3,1546.5 226.0,1547.0 227.7,1546.6 229.3,1546.9 231.0,1546.9 232.7,1547.1 234.3,1547.1 236.0,1547.9 237.7,1547.5 239.3,1546.6 241.0,1546.6 242.6,1547.2 244.3,1547.0 246.0,1548.0 247.6,1547.3 249.3,1547.3 251.0,1547.4 252.6,1547.4 254.3,1547.6 256.0,1547.4 257.6,1547.6 259.3,1547.4 260.9,1546.7 262.6,1547.6 264.3,1548.2 265.9,1547.4 267.6,1547.5 269.3,1547.9 270.9,1547.6 272.6,1547.8 274.3,1547.7 275.9,1548.0 277.6,1547.8 279.3,1548.5 280.9,1548.1 282.6,1547.9 284.2,1547.5 285.9,1547.9 287.6,1547.7 289.2,1548.2 290.9,1548.3 292.6,1549.0 294.2,1548.0 295.9,1548.2 297.6,1548.5 299.2,1547.6 300.9,1548.3 302.6,1548.9 304.2,1548.4 305.9,1548.3 307.6,1548.8 309.2,1548.5 310.9,1548.5 312.5,1548.7 314.2,1548.3 315.9,1549.1 317.5,1548.5 319.2,1548.5 320.9,1548.4 322.5,1547.7 324.2,1547.9 325.9,1548.4 327.5,1548.6 329.2,1549.1 330.9,1549.7 332.5,1549.2 334.2,1548.8 335.8,1548.6 337.5,1549.3 339.2,1548.7 340.8,1548.9 342.5,1549.4 344.2,1549.0 345.8,1548.9 347.5,1549.0 349.2,1548.5 350.8,1548.9 352.5,1549.1 354.1,1549.2 355.8,1549.0 357.5,1548.4 359.1,1548.8 360.8,1549.4 362.5,1549.0 364.1,1548.9 365.8,1549.3" fill="none" stroke="#17B5BC" stroke-width="5.4" stroke-linejoin="round" />
<polyline points="404.1,1468.4 405.1,1485.2 406.1,1503.4 407.2,1505.3 408.4,1508.4 409.5,1510.0 410.9,1512.5 412.2,1517.0 413.5,1519.8 414.9,1523.5 416.5,1528.0 418.2,1531.6 419.8,1532.4 421.3,1533.3 422.9,1534.5 424.5,1534.9 426.0,1536.0 427.6,1537.0 429.2,1537.4 430.8,1538.8 432.5,1538.9 434.1,1538.3 435.7,1539.6 437.3,1540.3 438.9,1540.7 440.6,1541.9 442.2,1542.4 443.8,1542.3 445.4,1541.8 447.0,1543.2 448.5,1542.7 450.1,1542.8 451.7,1542.9 453.3,1543.3 454.8,1544.0 456.4,1543.2 458.0,1543.8 459.6,1543.7 461.1,1544.1 462.7,1544.3 464.3,1545.0 465.9,1545.4 467.4,1544.7 469.0,1545.4 470.6,1545.7 472.2,1544.6 473.8,1545.4 475.3,1545.8 476.9,1545.3 478.5,1546.6 480.1,1545.8 481.7,1544.9 483.3,1545.4 484.8,1544.8 486.4,1545.3 488.0,1545.1 489.6,1545.1 491.2,1543.6 492.8,1544.3 494.3,1545.2 495.9,1545.4 497.5,1545.0 499.2,1545.5 500.8,1545.3 502.5,1545.7 504.1,1545.8 505.8,1545.7 507.5,1546.0 509.1,1546.1 510.8,1545.4 512.4,1545.9 514.1,1546.2 515.8,1545.8 517.4,1544.7 519.1,1545.5 520.8,1546.0 522.4,1544.7 524.1,1545.0 525.7,1545.3 527.4,1547.0 529.1,1546.9 530.7,1546.3 532.4,1547.0 534.0,1546.8 535.7,1545.9 537.4,1546.3 539.0,1547.2 540.7,1546.8 542.3,1548.3 544.0,1547.1 545.7,1547.1 547.3,1546.9 549.0,1547.0 550.6,1547.1 552.3,1547.2 553.9,1547.9 555.6,1548.5 557.2,1547.4 558.9,1546.5 560.5,1547.0 562.2,1547.4 563.8,1548.3 565.5,1548.0 567.1,1547.6 568.8,1549.1 570.4,1547.3 572.1,1546.9 573.7,1548.3 575.4,1548.2 577.0,1547.8 578.7,1547.1 580.3,1547.8 582.0,1548.0 583.7,1547.5 585.3,1547.8 587.0,1547.1 588.6,1548.4 590.3,1547.4 591.9,1548.4 593.6,1547.6 595.2,1547.4 596.9,1547.8 598.5,1547.6 600.2,1548.4 601.8,1547.7 603.5,1548.2 605.1,1548.6 606.8,1548.8 608.4,1548.9 610.1,1548.4 611.7,1549.5 613.4,1548.6 615.0,1548.2 616.7,1548.6 618.3,1549.6 620.0,1548.6 621.7,1547.9 623.3,1548.2 625.0,1549.4 626.6,1548.9 628.3,1548.0 629.9,1549.0 631.6,1549.2 633.2,1548.8 634.9,1548.1 636.5,1548.6 638.2,1548.5 639.8,1549.6 641.5,1548.5 643.2,1547.9 644.8,1549.0 646.5,1548.9 648.1,1549.8 649.8,1547.9 651.4,1548.8 653.1,1549.7 654.7,1549.2 656.4,1549.5 658.0,1549.0 659.7,1550.2 661.3,1548.9 663.0,1549.3 664.7,1549.4 666.3,1549.5 668.0,1549.9 669.6,1549.6 671.3,1549.7 672.9,1550.0 674.6,1549.9 676.2,1550.3 677.9,1549.4 679.5,1550.7 681.2,1549.1 682.8,1548.8 684.5,1550.0" fill="none" stroke="#EA746D" stroke-width="5.4" stroke-linejoin="round" />
<polyline points="403.4,1512.8 404.8,1530.2 406.1,1533.9 407.5,1538.3 408.5,1524.0 409.5,1510.0 410.8,1473.8 411.8,1491.9 412.8,1510.0 413.5,1537.0 414.6,1539.7 415.8,1543.0 416.9,1546.4 418.2,1546.9 419.6,1546.2 420.9,1546.2 422.3,1546.4 423.3,1550.4 424.3,1554.4 425.9,1554.3 427.5,1555.1 429.1,1555.9 430.6,1556.1 432.2,1556.2 433.8,1556.9 435.4,1557.1 437.0,1557.8 438.6,1557.8 440.2,1557.9 441.8,1557.9 443.4,1557.8 445.0,1558.4 446.6,1558.3 448.2,1558.4 449.8,1558.4 451.4,1558.3 453.0,1558.5 454.6,1558.5 456.2,1558.6 457.8,1558.7 459.4,1558.6 461.0,1558.8 462.6,1558.9 464.2,1559.1 465.8,1558.8 467.4,1559.2 469.0,1558.5 470.6,1559.1 472.3,1558.8 473.9,1559.0 475.6,1558.9 477.3,1559.2 478.9,1558.6 480.6,1558.6 482.3,1558.6 483.9,1559.0 485.6,1559.4 487.3,1558.8 489.0,1558.9 490.6,1558.8 492.3,1559.2 494.0,1559.2 495.6,1559.2 497.3,1558.9 499.0,1558.9 500.6,1558.8 502.3,1558.8 504.0,1558.9 505.6,1559.1 507.3,1558.6 509.0,1559.3 510.6,1559.1 512.3,1559.5 514.0,1559.4 515.6,1559.1 517.3,1559.1 519.0,1559.2 520.6,1558.8 522.3,1559.2 524.0,1559.0 525.6,1559.0 527.3,1558.8 529.0,1558.9 530.7,1558.7 532.3,1558.7 534.0,1559.0 535.7,1559.1 537.3,1559.0 539.0,1558.6 540.7,1558.8 542.3,1558.7 544.0,1558.9 545.7,1558.9 547.3,1558.8 549.0,1558.8 550.6,1559.0 552.3,1559.0 553.9,1559.0 555.6,1559.0 557.2,1558.9 558.9,1559.0 560.5,1558.8 562.2,1559.2 563.8,1559.2 565.5,1559.2 567.1,1559.5 568.8,1559.1 570.4,1559.5 572.1,1559.5 573.8,1559.4 575.4,1559.1 577.1,1559.4 578.7,1559.3 580.4,1559.2 582.0,1559.4 583.7,1559.5 585.3,1559.3 587.0,1559.5 588.6,1560.3 590.3,1559.5 591.9,1559.7 593.6,1559.6 595.2,1559.5 596.9,1559.7 598.5,1559.3 600.2,1559.2 601.9,1559.6 603.5,1559.8 605.2,1559.7 606.8,1560.0 608.5,1559.8 610.1,1559.9 611.8,1559.5 613.4,1560.2 615.1,1559.8 616.7,1559.9 618.4,1560.0 620.0,1559.8 621.7,1560.0 623.3,1560.0 625.0,1560.3 626.6,1559.8 628.3,1560.0 630.0,1560.1 631.6,1560.0 633.3,1559.8 634.9,1560.2 636.6,1559.8 638.2,1559.8 639.9,1560.1 641.5,1560.2 643.2,1560.1 644.8,1560.1 646.5,1560.0 648.1,1560.4 649.8,1560.4 651.4,1560.8 653.1,1560.3 654.7,1560.5 656.4,1560.4 658.1,1560.4 659.7,1560.1 661.4,1561.1 663.0,1560.8 664.7,1560.7 666.3,1560.6 668.0,1560.3 669.6,1560.2 671.3,1560.2 672.9,1560.7 674.6,1560.5 676.2,1560.6 677.9,1560.7 679.5,1560.7 681.2,1560.6 682.8,1560.6 684.5,1560.8" fill="none" stroke="#17B5BC" stroke-width="5.4" stroke-linejoin="round" />
<polyline points="723.1,1512.9 724.5,1521.0 726.0,1522.0 727.4,1522.9 728.9,1523.3 730.3,1524.4 731.8,1526.3 733.2,1530.1 734.5,1533.0 735.9,1537.1 737.2,1539.0 738.6,1541.3 739.9,1543.8 741.3,1546.5 742.9,1548.0 744.5,1549.4 746.1,1550.6 747.7,1552.6 749.3,1554.5 750.9,1555.5 752.5,1555.6 754.2,1555.5 755.8,1558.0 757.4,1557.2 758.9,1557.6 760.4,1558.3 761.9,1558.6 763.5,1559.6 765.0,1560.0 766.5,1559.8 768.0,1561.3 769.5,1561.3 771.0,1561.9 772.6,1561.2 774.1,1561.4 775.7,1561.5 777.2,1562.9 778.8,1562.8 780.3,1562.9 781.9,1563.6 783.4,1564.1 785.0,1563.6 786.5,1563.8 788.1,1563.7 789.6,1564.0 791.2,1564.1 792.8,1564.4 794.3,1564.5 795.9,1565.2 797.5,1565.8 799.1,1564.9 800.7,1565.8 802.3,1565.7 803.8,1565.9 805.4,1565.5 807.0,1565.2 808.6,1566.5 810.2,1566.7 811.8,1566.9 813.3,1567.3 814.9,1567.1 816.5,1568.0 818.1,1568.1 819.7,1568.9 821.2,1569.0 822.8,1568.6 824.4,1568.4 826.0,1568.5 827.6,1568.4 829.2,1568.4 830.7,1568.3 832.3,1568.3 833.9,1570.8 835.5,1569.7 837.1,1569.4 838.7,1569.3 840.2,1568.8 841.8,1569.1 843.4,1569.3 845.0,1568.7 846.7,1569.1 848.3,1568.7 849.9,1569.0 851.6,1569.3 853.2,1569.8 854.8,1569.4 856.5,1569.0 858.1,1568.3 859.7,1569.2 861.4,1570.0 863.0,1569.7 864.6,1569.8 866.3,1569.6 867.9,1569.7 869.6,1569.8 871.2,1569.3 872.8,1569.6 874.5,1570.2 876.1,1570.1 877.8,1569.9 879.4,1570.3 881.0,1569.3 882.7,1570.5 884.3,1569.6 885.9,1569.6 887.6,1570.5 889.2,1570.3 890.9,1570.1 892.5,1570.6 894.1,1569.6 895.8,1570.5 897.4,1571.6 899.1,1570.5 900.7,1570.4 902.3,1570.2 904.0,1571.0 905.6,1571.2 907.3,1570.7 908.9,1570.0 910.5,1570.5 912.2,1570.5 913.8,1569.7 915.4,1571.4 917.1,1570.5 918.7,1571.3 920.4,1569.7 922.0,1570.8 923.6,1570.1 925.3,1571.1 926.9,1571.0 928.6,1569.7 930.2,1570.7 931.8,1569.5 933.4,1570.1 935.0,1570.0 936.6,1571.3 938.3,1571.3 939.9,1571.2 941.5,1571.0 943.1,1571.8 944.7,1571.3 946.3,1571.7 947.9,1570.9 949.5,1571.7 951.2,1571.6 952.8,1571.6 954.4,1571.9 956.0,1570.7 957.6,1569.8 959.2,1571.1 960.8,1571.5 962.4,1571.2 964.1,1571.4 965.7,1572.0 967.3,1571.1 968.9,1571.7 970.5,1571.3 972.1,1571.9 973.7,1572.8 975.3,1572.7 977.0,1571.9 978.6,1571.9 980.2,1571.9 981.8,1571.5 983.4,1571.5 985.0,1571.3 986.6,1572.8 988.3,1572.9 989.9,1573.0 991.5,1572.6 993.1,1572.8 994.7,1573.7 996.3,1574.1 998.0,1573.7 999.6,1573.7 1001.2,1572.1 1002.8,1573.4" fill="none" stroke="#EA746D" stroke-width="5.4" stroke-linejoin="round" />
<polyline points="723.8,1537.7 725.1,1538.4 726.5,1539.4 727.8,1541.2 729.2,1542.3 730.5,1543.8 731.9,1545.5 733.2,1547.1 734.5,1549.4 735.9,1551.9 737.2,1553.1 738.6,1554.7 739.9,1557.1 741.3,1557.8 742.6,1559.9 744.2,1561.5 745.7,1559.6 747.3,1561.9 748.9,1562.2 750.4,1563.0 752.0,1564.0 753.6,1562.4 755.2,1561.6 756.9,1562.0 758.5,1561.5 760.1,1559.9 761.6,1561.4 763.1,1561.5 764.6,1560.9 766.2,1562.1 767.7,1564.2 769.2,1563.9 770.7,1565.4 772.2,1565.3 773.7,1565.0 775.3,1564.2 776.8,1564.8 778.3,1563.5 779.8,1562.3 781.4,1561.9 782.9,1561.3 784.2,1560.7 785.6,1561.5 786.9,1562.1 788.3,1560.9 789.6,1561.3 791.0,1562.5 792.3,1563.3 793.6,1565.1 795.0,1565.3 796.6,1564.8 798.2,1563.8 799.9,1563.2 801.5,1563.4 803.1,1562.6 804.4,1561.8 805.8,1560.4 807.1,1560.1 808.5,1559.2 809.8,1558.6 811.1,1559.6 812.5,1559.2 813.8,1561.3 815.2,1560.5 816.5,1561.3 817.8,1562.1 819.2,1562.8 820.5,1563.7 821.9,1563.6 823.2,1565.3 824.6,1564.5 825.9,1562.1 827.2,1560.2 828.6,1559.9 830.0,1563.0 831.3,1564.7 832.6,1566.1 834.0,1568.0 835.6,1567.6 837.1,1566.9 838.7,1565.2 840.3,1564.0 841.8,1562.6 843.4,1562.6 844.7,1561.7 846.1,1562.1 847.4,1561.4 848.8,1562.0 850.1,1561.3 851.5,1562.3 852.8,1562.0 854.2,1561.1 855.5,1562.1 856.9,1562.6 858.4,1561.5 860.0,1562.6 861.5,1561.5 863.0,1560.6 864.5,1560.8 866.0,1560.9 867.5,1562.2 869.0,1562.3 870.4,1561.6 871.9,1561.5 873.4,1562.0 874.9,1563.1 876.4,1562.6 878.0,1563.3 879.5,1562.6 881.1,1562.4 882.6,1562.4 884.2,1560.4 885.7,1561.4 887.3,1562.8 888.8,1562.5 890.4,1561.4 891.9,1561.1 893.5,1560.6 895.0,1560.2 896.6,1561.3 898.1,1560.5 899.6,1561.0 901.1,1559.3 902.7,1558.6 904.2,1558.9 905.7,1558.9 907.2,1557.6 908.7,1557.2 910.2,1556.4 911.7,1557.1 913.2,1558.2 914.8,1558.5 916.3,1559.2 917.8,1558.6 919.3,1557.9 920.8,1558.6 922.4,1559.0 923.9,1559.7 925.5,1561.0 927.1,1562.2 928.6,1561.6 930.2,1562.6 931.8,1562.6 933.4,1562.4 935.1,1561.5 936.7,1560.0 938.3,1559.9 939.8,1560.3 941.3,1560.4 942.8,1560.7 944.3,1561.3 945.9,1562.2 947.4,1563.1 948.9,1562.3 950.4,1563.3 952.0,1563.5 953.7,1562.6 955.3,1562.8 956.9,1561.4 958.6,1563.6 960.2,1562.7 961.8,1561.2 963.5,1561.4 965.1,1561.3 966.6,1559.8 968.1,1559.5 969.5,1558.2 971.0,1556.2 972.5,1555.9 974.0,1556.2 975.5,1558.5 977.1,1559.1 978.6,1560.6 980.0,1559.8 981.3,1560.8 982.6,1562.1 984.0,1561.3 985.6,1561.8 987.2,1560.5 988.8,1561.0 990.4,1558.8 992.0,1559.3 993.4,1557.2 994.9,1559.4 996.3,1559.3 997.8,1559.8 999.2,1559.1 1000.7,1559.5 1002.1,1559.3" fill="none" stroke="#17B5BC" stroke-width="5.4" stroke-linejoin="round" />
<line x1="71.90" y1="1316.5" x2="71.90" y2="1586.5" stroke="#222" stroke-width="2.3"/>
<line x1="70.7" y1="1585.3" x2="379.5" y2="1585.3" stroke="#2e2e2e" stroke-width="2.4"/>
<line x1="85.3" y1="1586.6" x2="85.3" y2="1591.7" stroke="#333" stroke-width="2"/>
<text x="85.3" y="1608.4" font-size="17.8" text-anchor="middle" stroke="#4D4D4D" fill="#4D4D4D">0</text>
<line x1="168.6" y1="1586.6" x2="168.6" y2="1591.7" stroke="#333" stroke-width="2"/>
<text x="168.6" y="1608.4" font-size="17.8" text-anchor="middle" stroke="#4D4D4D" fill="#4D4D4D">50</text>
<line x1="252.0" y1="1586.6" x2="252.0" y2="1591.7" stroke="#333" stroke-width="2"/>
<text x="252.0" y="1608.4" font-size="17.8" text-anchor="middle" stroke="#4D4D4D" fill="#4D4D4D">100</text>
<line x1="335.3" y1="1586.6" x2="335.3" y2="1591.7" stroke="#333" stroke-width="2"/>
<text x="335.3" y="1608.4" font-size="17.8" text-anchor="middle" stroke="#4D4D4D" fill="#4D4D4D">150</text>
<line x1="390.80" y1="1316.5" x2="390.80" y2="1586.5" stroke="#222" stroke-width="2.3"/>
<line x1="389.6" y1="1585.3" x2="698.4" y2="1585.3" stroke="#2e2e2e" stroke-width="2.4"/>
<line x1="404.3" y1="1586.6" x2="404.3" y2="1591.7" stroke="#333" stroke-width="2"/>
<text x="404.3" y="1608.4" font-size="17.8" text-anchor="middle" stroke="#4D4D4D" fill="#4D4D4D">0</text>
<line x1="487.6" y1="1586.6" x2="487.6" y2="1591.7" stroke="#333" stroke-width="2"/>
<text x="487.6" y="1608.4" font-size="17.8" text-anchor="middle" stroke="#4D4D4D" fill="#4D4D4D">50</text>
<line x1="571.0" y1="1586.6" x2="571.0" y2="1591.7" stroke="#333" stroke-width="2"/>
<text x="571.0" y="1608.4" font-size="17.8" text-anchor="middle" stroke="#4D4D4D" fill="#4D4D4D">100</text>
<line x1="654.3" y1="1586.6" x2="654.3" y2="1591.7" stroke="#333" stroke-width="2"/>
<text x="654.3" y="1608.4" font-size="17.8" text-anchor="middle" stroke="#4D4D4D" fill="#4D4D4D">150</text>
<line x1="710.20" y1="1316.5" x2="710.20" y2="1586.5" stroke="#222" stroke-width="2.3"/>
<line x1="709.0" y1="1585.3" x2="1017.8" y2="1585.3" stroke="#2e2e2e" stroke-width="2.4"/>
<line x1="723.0" y1="1586.6" x2="723.0" y2="1591.7" stroke="#333" stroke-width="2"/>
<text x="723.0" y="1608.4" font-size="17.8" text-anchor="middle" stroke="#4D4D4D" fill="#4D4D4D">0</text>
<line x1="806.3" y1="1586.6" x2="806.3" y2="1591.7" stroke="#333" stroke-width="2"/>
<text x="806.3" y="1608.4" font-size="17.8" text-anchor="middle" stroke="#4D4D4D" fill="#4D4D4D">50</text>
<line x1="889.7" y1="1586.6" x2="889.7" y2="1591.7" stroke="#333" stroke-width="2"/>
<text x="889.7" y="1608.4" font-size="17.8" text-anchor="middle" stroke="#4D4D4D" fill="#4D4D4D">100</text>
<line x1="973.0" y1="1586.6" x2="973.0" y2="1591.7" stroke="#333" stroke-width="2"/>
<text x="973.0" y="1608.4" font-size="17.8" text-anchor="middle" stroke="#4D4D4D" fill="#4D4D4D">150</text>
<line x1="66" y1="1579.8" x2="71.3" y2="1579.8" stroke="#333" stroke-width="1.9"/>
<text x="61.3" y="1586.2" font-size="17.8" text-anchor="end" stroke="#4D4D4D" fill="#4D4D4D">0.000</text>
<line x1="66" y1="1517.2" x2="71.3" y2="1517.2" stroke="#333" stroke-width="1.9"/>
<text x="61.3" y="1523.6" font-size="17.8" text-anchor="end" stroke="#4D4D4D" fill="#4D4D4D">0.025</text>
<line x1="66" y1="1454.7" x2="71.3" y2="1454.7" stroke="#333" stroke-width="1.9"/>
<text x="61.3" y="1461.1" font-size="17.8" text-anchor="end" stroke="#4D4D4D" fill="#4D4D4D">0.050</text>
<line x1="66" y1="1392.1" x2="71.3" y2="1392.1" stroke="#333" stroke-width="1.9"/>
<text x="61.3" y="1398.5" font-size="17.8" text-anchor="end" stroke="#4D4D4D" fill="#4D4D4D">0.075</text>
<line x1="66" y1="1329.6" x2="71.3" y2="1329.6" stroke="#333" stroke-width="1.9"/>
<text x="61.3" y="1336.0" font-size="17.8" text-anchor="end" stroke="#4D4D4D" fill="#4D4D4D">0.100</text>
<text transform="translate(543.7 1632.8) scale(1.03 1)" font-size="21" text-anchor="middle" stroke="#000" fill="#000">epoch</text>
<rect x="1048.5" y="1432.9" width="35" height="67.7" fill="#F0F0F0"/>
<line x1="1051.8" x2="1080.2" y1="1450.1" y2="1450.1" stroke="#EA746D" stroke-width="6.3"/>
<line x1="1051.8" x2="1080.2" y1="1483.7" y2="1483.7" stroke="#17B5BC" stroke-width="6.3"/>
<text x="1094.0" y="1455.7" font-size="17.0" stroke="#000" fill="#000">train</text>
<text x="1094.0" y="1489.5" font-size="17.0" stroke="#000" fill="#000">val</text>
</g>
<g id="ssd">
<text transform="translate(291.3 1677.1) scale(1.06 1)" font-size="26.4" text-anchor="middle" fill="#000">SSD</text>
<polyline points="107.8,1722.0 108.6,1850.0 109.3,1900.0 110.6,1991.5 111.8,2017.6 112.9,2043.3 114.1,2024.4 115.2,2005.2 116.5,2012.2 117.7,2019.1 119.0,2026.5 120.2,2026.5 121.3,2025.0 122.6,2004.0 123.8,1983.3 125.1,1962.5 126.1,1969.6 127.1,1977.8 128.1,1985.4 129.2,1982.8 130.4,1980.8 131.2,2008.6 131.9,2037.2 133.0,2030.2 134.1,2022.5 135.1,2016.9 136.2,2010.5 137.3,2003.7 138.3,2018.2 139.3,2031.3 140.3,2044.8 141.3,2059.9 142.4,2075.7 143.4,2090.5 144.1,2125.6 145.4,2125.7 146.6,2125.2 147.9,2125.6 149.2,2138.1 150.4,2149.9 151.7,2163.7 152.9,2164.9 154.1,2166.8 155.4,2169.7 156.6,2171.4 157.8,2172.9 159.1,2177.6 160.3,2183.7 161.6,2189.6 162.8,2191.0 163.9,2193.1 165.0,2195.7 166.2,2197.3 167.4,2199.4 168.6,2203.3 169.9,2205.8 171.1,2208.0 172.3,2211.0 173.5,2212.1 174.6,2213.4 175.8,2214.5 176.9,2215.5 178.1,2216.4 179.2,2217.9 180.3,2219.3 181.5,2220.0 182.6,2223.0 183.8,2223.5 184.9,2226.0 186.0,2227.7 187.2,2228.7 188.4,2228.6 189.6,2230.0 190.8,2229.7 191.9,2230.5 193.1,2231.3 194.3,2232.9 195.5,2232.8 196.7,2233.8 197.8,2234.1 199.0,2236.3 200.2,2237.1 201.3,2236.5 202.4,2237.9 203.6,2238.7 204.8,2239.6 205.9,2241.0 207.1,2241.5 208.2,2241.5 209.4,2241.2 210.6,2242.4 211.9,2242.1 213.1,2241.8 214.4,2243.1 215.6,2244.3 216.9,2243.7 218.1,2244.4 219.4,2245.1 220.6,2245.7 221.9,2247.0 223.1,2246.4 224.4,2247.6 225.6,2248.6 226.9,2248.3 228.1,2248.6 229.4,2248.9 230.6,2249.3 231.9,2249.9 233.1,2250.7 234.4,2251.5 235.6,2251.6 236.8,2251.3 238.1,2251.9 239.3,2252.7 240.6,2251.3 241.8,2252.9 243.1,2253.0 244.3,2253.6 245.6,2253.5 246.8,2252.4 248.1,2253.2 249.3,2254.5 250.6,2254.1 251.8,2254.3 253.1,2253.5 254.3,2253.6 255.6,2254.2 256.8,2254.8 258.1,2255.3 259.3,2255.5 260.6,2255.8 261.8,2255.5 263.1,2255.6 264.4,2255.8 265.7,2256.9 266.9,2257.5 268.2,2258.3 269.5,2258.4 270.8,2259.6 272.1,2259.4 273.4,2259.8 274.6,2259.3 275.9,2260.2 277.2,2261.4 278.5,2261.8 279.8,2262.0 281.0,2262.5 282.3,2262.0 283.6,2262.8 284.8,2261.8 286.1,2260.8 287.4,2262.3 288.6,2262.4 289.9,2262.9 291.2,2262.7 292.4,2263.4 293.7,2263.2 295.0,2263.2 296.2,2263.0 297.5,2262.2 298.8,2262.7 300.1,2263.3 301.3,2263.6 302.6,2262.5 303.9,2262.7 305.1,2262.8 306.4,2263.6 307.7,2263.8 308.9,2263.5 310.2,2264.2 311.5,2263.7 312.7,2264.4 314.0,2262.8 315.3,2264.0 316.5,2264.0 317.8,2264.1 319.1,2264.3 320.3,2264.5 321.6,2264.7 322.9,2264.4 324.1,2264.1 325.4,2264.0 326.7,2264.4 327.9,2264.8 329.2,2264.8 330.4,2265.5 331.7,2266.2 333.0,2265.5 334.2,2265.1 335.5,2265.3 336.8,2265.0 338.0,2266.1 339.3,2266.3 340.6,2266.3 341.8,2265.4 343.1,2266.0 344.4,2266.0 345.6,2266.8 346.9,2266.3 348.1,2267.8 349.4,2267.0 350.7,2267.2 351.9,2266.9 353.2,2267.5 354.5,2267.2 355.7,2267.5 357.0,2267.5 358.3,2268.1 359.6,2267.5 360.8,2267.3 362.1,2267.8 363.4,2267.7 364.7,2268.1 365.9,2267.2 367.2,2267.8 368.5,2267.4 369.8,2268.2 371.1,2267.8 372.3,2267.2 373.6,2268.0 374.9,2268.2 376.2,2268.1 377.4,2267.5 378.7,2267.5 380.0,2268.1 381.3,2268.6 382.6,2267.8 383.8,2267.8 385.1,2268.6 386.4,2269.4 387.7,2269.5 389.0,2269.9 390.2,2269.2 391.5,2269.0 392.8,2269.1 394.1,2268.5 395.3,2269.1 396.6,2269.1 397.9,2269.7 399.2,2268.5 400.5,2268.9 401.7,2269.2 403.0,2269.1 404.3,2269.0 405.6,2269.1 406.8,2268.7 408.1,2269.4 409.4,2269.4 410.7,2269.4 411.9,2269.6 413.2,2269.5 414.5,2269.3 415.7,2269.4 417.0,2269.4 418.2,2269.7 419.5,2270.4 420.8,2269.9 422.0,2269.8 423.3,2269.6 424.6,2270.2 425.8,2269.4 427.1,2271.2 428.3,2271.2 429.6,2270.5 430.9,2271.2 432.1,2270.9 433.4,2271.1 434.7,2271.5 435.9,2270.3 437.2,2271.3 438.4,2270.7 439.7,2270.5 441.0,2271.1 442.2,2270.7 443.5,2271.2 444.8,2271.6 446.0,2271.0 447.3,2271.3 448.5,2270.9 449.8,2270.7 451.0,2270.4 452.3,2270.4 453.5,2271.1 454.8,2271.0 456.1,2270.1 457.3,2270.5 458.6,2271.4 459.8,2271.2 461.1,2270.9 462.3,2271.5 463.6,2271.1 464.9,2270.3 466.1,2270.7 467.4,2271.3 468.6,2271.1 469.9,2271.7 471.1,2270.7 472.4,2270.9 473.6,2271.3 474.9,2270.7" fill="none" stroke="#F8766D" stroke-width="6.3" stroke-linejoin="round" />
<polyline points="108.0,1945.7 109.0,2044.8 109.8,2070.7 110.6,2098.0 111.3,2119.6 112.1,2140.8 113.4,2134.4 114.6,2129.1 115.9,2124.0 117.2,2120.8 118.5,2115.2 119.7,2112.2 121.0,2108.2 122.3,2105.8 123.5,2114.5 124.6,2124.6 125.8,2134.7 126.8,2137.1 127.8,2135.7 128.9,2137.5 129.9,2140.0 131.0,2126.6 132.1,2115.6 133.1,2102.4 134.2,2089.0 134.9,2113.0 135.7,2137.8 136.7,2141.1 137.8,2146.2 138.8,2150.0 139.8,2155.4 140.8,2159.0 141.8,2163.7 143.0,2166.1 144.2,2168.0 145.4,2171.9 146.6,2174.4 147.8,2175.8 149.0,2178.5 150.2,2182.0 151.5,2185.5 152.7,2191.9 154.0,2197.2 155.1,2196.9 156.2,2197.0 157.2,2197.3 158.3,2198.0 159.4,2197.2 160.2,2206.7 160.9,2217.0 162.0,2217.3 163.0,2218.0 164.1,2218.2 165.1,2219.2 166.2,2218.6 167.2,2221.7 168.3,2224.7 169.3,2227.7 170.5,2226.2 171.7,2224.8 173.0,2223.4 174.2,2225.0 175.4,2221.6 176.4,2218.5 177.4,2212.0 178.4,2207.9 179.4,2216.6 180.5,2223.7 181.5,2232.3 182.5,2234.6 183.5,2236.1 184.5,2237.6 185.7,2236.3 186.8,2236.1 187.9,2236.7 189.1,2236.9 190.1,2239.1 191.1,2242.0 192.1,2243.0 193.2,2242.9 194.4,2243.4 195.5,2242.4 196.7,2243.0 198.0,2241.5 199.2,2241.0 200.5,2239.2 201.7,2243.1 202.8,2246.0 203.8,2246.0 204.8,2243.5 205.8,2243.4 206.8,2243.8 208.1,2242.1 209.4,2239.3 210.7,2237.2 211.7,2240.8 212.7,2245.4 213.7,2247.6 214.7,2250.3 215.7,2247.3 216.8,2243.7 217.8,2240.0 218.9,2238.5 219.9,2234.6 220.9,2237.9 221.9,2241.7 222.8,2243.3 223.8,2247.7 224.9,2248.3 226.0,2246.6 227.1,2245.4 228.2,2245.7 229.3,2245.4 230.4,2245.0 231.7,2245.1 233.0,2244.8 234.3,2245.5 235.6,2246.0 236.9,2245.8 238.2,2246.4 239.3,2247.9 240.5,2248.6 241.6,2249.4 242.7,2251.6 243.8,2252.5 245.0,2255.1 246.1,2255.5 247.4,2256.9 248.7,2254.9 250.0,2255.5 251.3,2258.1 252.6,2258.2 253.7,2255.9 254.9,2254.4 256.0,2253.8 257.1,2252.9 258.2,2250.9 259.4,2248.3 260.5,2247.7 261.8,2250.2 263.1,2253.2 264.4,2255.1 265.7,2256.0 267.0,2259.5 268.1,2259.0 269.3,2258.4 270.4,2257.8 271.5,2257.3 272.6,2257.5 273.8,2255.4 274.9,2255.5 276.2,2253.4 277.5,2250.5 278.8,2248.7 280.1,2247.7 281.4,2245.0 282.3,2250.2 283.1,2253.7 284.0,2256.9 285.3,2257.4 286.6,2258.2 287.9,2257.1 289.2,2257.5 290.4,2256.9 291.7,2257.6 293.0,2257.6 294.3,2257.4 295.6,2257.1 296.9,2257.6 298.1,2257.0 299.3,2255.6 300.6,2254.5 301.8,2253.7 303.0,2251.9 304.2,2251.1 305.5,2250.0 306.7,2249.3 307.9,2248.4 309.1,2250.5 310.3,2251.1 311.5,2254.3 312.7,2255.0 313.9,2256.3 314.9,2255.4 316.0,2254.6 317.0,2253.1 318.1,2253.0 319.1,2251.0 320.2,2251.7 321.3,2253.2 322.4,2253.3 323.5,2253.3 324.6,2255.4 325.7,2256.3 326.8,2255.3 327.9,2255.7 329.0,2256.0 330.2,2255.5 331.3,2254.4 332.4,2255.4 333.5,2253.7 334.6,2254.8 335.8,2256.5 336.9,2255.7 338.0,2255.7 339.1,2258.1 340.3,2257.5 341.4,2258.9 342.6,2258.2 343.8,2258.2 345.0,2257.3 346.2,2255.6 347.4,2255.6 348.5,2255.0 349.7,2254.0 350.9,2253.0 352.1,2252.6 353.3,2251.7 354.5,2251.0 355.8,2251.4 357.1,2252.2 358.4,2254.4 359.7,2254.8 361.0,2255.3 362.3,2255.5 363.6,2256.2 364.9,2257.6 366.2,2258.0 367.5,2258.9 368.6,2256.2 369.7,2256.3 370.8,2254.6 371.9,2253.4 373.0,2253.1 374.1,2251.0 375.4,2253.5 376.7,2254.6 378.0,2256.5 379.3,2257.8 380.6,2260.2 381.8,2258.8 383.0,2258.8 384.1,2257.8 385.3,2256.5 386.5,2255.3 387.7,2254.3 388.9,2253.2 390.0,2252.9 391.2,2250.2 392.4,2249.7 393.5,2250.3 394.6,2251.8 395.7,2254.3 396.8,2256.0 397.9,2259.2 399.0,2260.2 400.2,2259.5 401.4,2258.6 402.6,2258.2 403.8,2258.9 405.0,2258.3 406.2,2257.7 407.5,2257.3 408.7,2257.2 409.9,2258.2 411.1,2256.9 412.3,2257.6 413.5,2256.1 414.7,2256.3 415.9,2256.7 417.1,2255.3 418.3,2257.0 419.5,2256.6 420.7,2256.3 421.9,2256.7 423.2,2256.1 424.4,2255.5 425.6,2255.8 426.8,2255.4 428.0,2257.5 429.2,2256.4 430.4,2256.3 431.5,2257.2 432.6,2258.3 433.7,2258.7 434.9,2260.2 436.0,2261.3 437.1,2261.6 438.2,2262.8 439.3,2260.6 440.4,2261.2 441.5,2259.3 442.6,2258.7 443.7,2257.6 444.8,2256.3 446.0,2257.3 447.2,2255.6 448.4,2256.9 449.6,2259.1 450.8,2257.4 452.0,2258.2 453.2,2259.8 454.4,2260.1 455.6,2260.1 456.8,2259.4 458.0,2261.2 459.2,2261.5 460.4,2259.0 461.5,2258.2 462.7,2258.9 463.8,2258.4 465.0,2255.9 466.1,2255.8 467.3,2256.0 468.4,2254.2 469.6,2253.7 470.7,2253.0 471.7,2254.6 472.8,2255.7 473.8,2255.5 474.9,2256.3" fill="none" stroke="#00BFC4" stroke-width="6.3" stroke-linejoin="round" />
<line x1="89.8" y1="1694.5" x2="89.8" y2="2298.4" stroke="#222" stroke-width="1.4"/>
<line x1="89.1" y1="2297.7" x2="493.3" y2="2297.7" stroke="#222" stroke-width="1.4"/>
<line x1="83.2" x2="89.8" y1="1721.0" y2="1721.0" stroke="#333" stroke-width="1.4"/>
<text transform="translate(77.7 1728.3) scale(1.06 1)" font-size="17.6" text-anchor="end" fill="#4D4D4D">400</text>
<line x1="83.2" x2="89.8" y1="1867.0" y2="1867.0" stroke="#333" stroke-width="1.4"/>
<text transform="translate(77.7 1874.3) scale(1.06 1)" font-size="17.6" text-anchor="end" fill="#4D4D4D">300</text>
<line x1="83.2" x2="89.8" y1="2013.0" y2="2013.0" stroke="#333" stroke-width="1.4"/>
<text transform="translate(77.7 2020.3) scale(1.06 1)" font-size="17.6" text-anchor="end" fill="#4D4D4D">200</text>
<line x1="83.2" x2="89.8" y1="2159.3" y2="2159.3" stroke="#333" stroke-width="1.4"/>
<text transform="translate(77.7 2166.6) scale(1.06 1)" font-size="17.6" text-anchor="end" fill="#4D4D4D">100</text>
<line y1="2298" y2="2304.4" x1="105.8" x2="105.8" stroke="#333" stroke-width="1.4"/>
<text transform="translate(105.8 2324.3) scale(1.05 1)" font-size="17.6" text-anchor="middle" fill="#4D4D4D">0</text>
<line y1="2298" y2="2304.4" x1="228.7" x2="228.7" stroke="#333" stroke-width="1.4"/>
<text transform="translate(228.7 2324.3) scale(1.05 1)" font-size="17.6" text-anchor="middle" fill="#4D4D4D">100</text>
<line y1="2298" y2="2304.4" x1="351.5" x2="351.5" stroke="#333" stroke-width="1.4"/>
<text transform="translate(351.5 2324.3) scale(1.05 1)" font-size="17.6" text-anchor="middle" fill="#4D4D4D">200</text>
<line y1="2298" y2="2304.4" x1="474.3" x2="474.3" stroke="#333" stroke-width="1.4"/>
<text transform="translate(474.3 2324.3) scale(1.05 1)" font-size="17.6" text-anchor="middle" fill="#4D4D4D">300</text>
<text transform="translate(290.8 2350.6) scale(1.055 1)" font-size="22" text-anchor="middle" fill="#000">epoch</text>
<rect x="529.1" y="1976.8" width="36" height="72.7" fill="#F2F2F2"/>
<line x1="532.1" x2="561.3" y1="1995" y2="1995" stroke="#F8766D" stroke-width="6.1"/>
<line x1="532.1" x2="561.3" y1="2031.3" y2="2031.3" stroke="#00BFC4" stroke-width="6.1"/>
<text x="576.3" y="2002.7" font-size="17.6" fill="#000">train</text>
<text x="576.3" y="2039.0" font-size="17.6" fill="#000">val</text>
</g>
</svg>
</body></html>
